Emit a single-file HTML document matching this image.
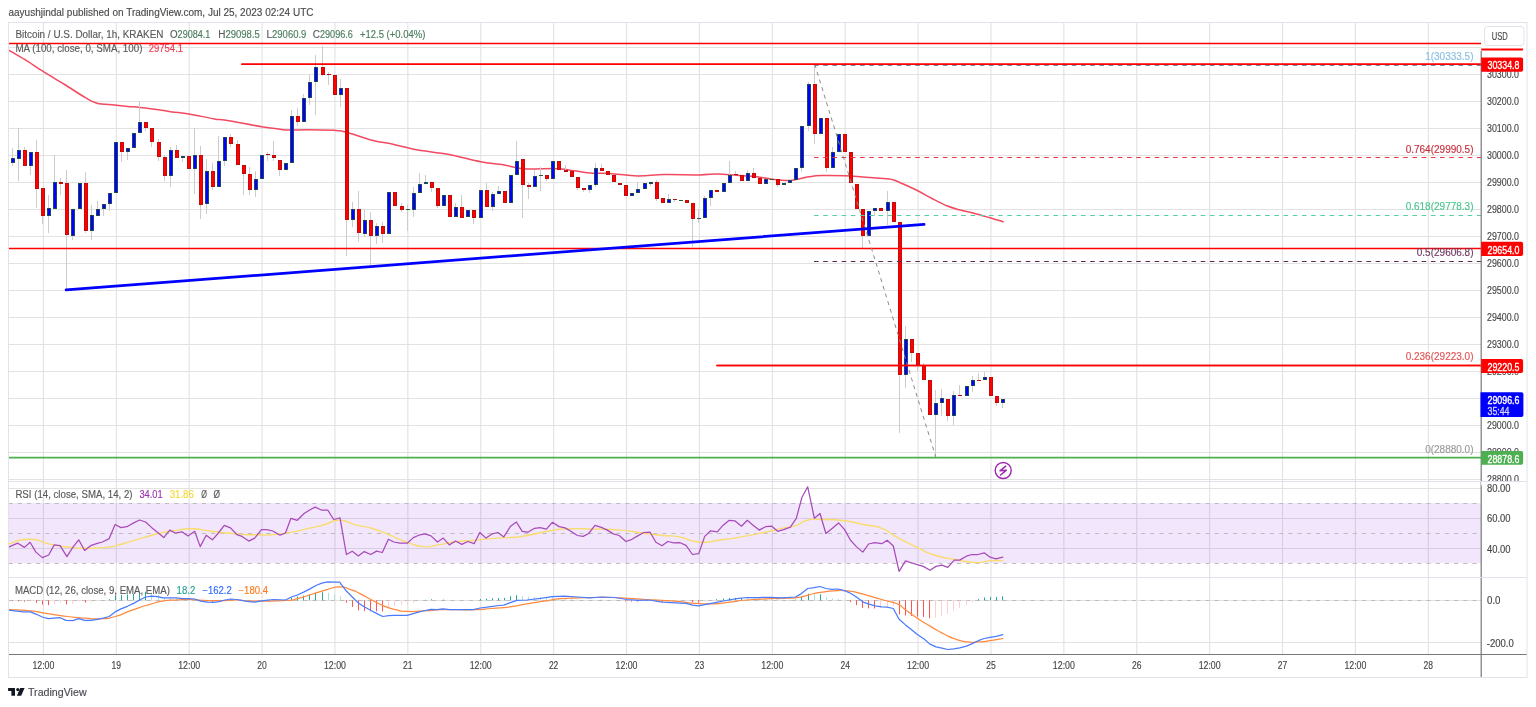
<!DOCTYPE html><html><head><meta charset="utf-8"><style>html,body{margin:0;padding:0;background:#fff;}svg{display:block;}</style></head><body><svg width="1536" height="707" viewBox="0 0 1536 707" font-family="'Liberation Sans', Arial, sans-serif">
<rect x="0" y="0" width="1536" height="707" fill="#ffffff"/>
<line x1="43.40" y1="22.5" x2="43.40" y2="654.5" stroke="#e2e2e2" stroke-width="1.1"/>
<line x1="116.29" y1="22.5" x2="116.29" y2="654.5" stroke="#e2e2e2" stroke-width="1.1"/>
<line x1="189.18" y1="22.5" x2="189.18" y2="654.5" stroke="#e2e2e2" stroke-width="1.1"/>
<line x1="262.07" y1="22.5" x2="262.07" y2="654.5" stroke="#e2e2e2" stroke-width="1.1"/>
<line x1="334.96" y1="22.5" x2="334.96" y2="654.5" stroke="#e2e2e2" stroke-width="1.1"/>
<line x1="407.85" y1="22.5" x2="407.85" y2="654.5" stroke="#e2e2e2" stroke-width="1.1"/>
<line x1="480.74" y1="22.5" x2="480.74" y2="654.5" stroke="#e2e2e2" stroke-width="1.1"/>
<line x1="553.63" y1="22.5" x2="553.63" y2="654.5" stroke="#e2e2e2" stroke-width="1.1"/>
<line x1="626.52" y1="22.5" x2="626.52" y2="654.5" stroke="#e2e2e2" stroke-width="1.1"/>
<line x1="699.41" y1="22.5" x2="699.41" y2="654.5" stroke="#e2e2e2" stroke-width="1.1"/>
<line x1="772.30" y1="22.5" x2="772.30" y2="654.5" stroke="#e2e2e2" stroke-width="1.1"/>
<line x1="845.19" y1="22.5" x2="845.19" y2="654.5" stroke="#e2e2e2" stroke-width="1.1"/>
<line x1="918.08" y1="22.5" x2="918.08" y2="654.5" stroke="#e2e2e2" stroke-width="1.1"/>
<line x1="990.97" y1="22.5" x2="990.97" y2="654.5" stroke="#e2e2e2" stroke-width="1.1"/>
<line x1="1063.86" y1="22.5" x2="1063.86" y2="654.5" stroke="#e2e2e2" stroke-width="1.1"/>
<line x1="1136.75" y1="22.5" x2="1136.75" y2="654.5" stroke="#e2e2e2" stroke-width="1.1"/>
<line x1="1209.64" y1="22.5" x2="1209.64" y2="654.5" stroke="#e2e2e2" stroke-width="1.1"/>
<line x1="1282.53" y1="22.5" x2="1282.53" y2="654.5" stroke="#e2e2e2" stroke-width="1.1"/>
<line x1="1355.42" y1="22.5" x2="1355.42" y2="654.5" stroke="#e2e2e2" stroke-width="1.1"/>
<line x1="1428.31" y1="22.5" x2="1428.31" y2="654.5" stroke="#e2e2e2" stroke-width="1.1"/>
<line x1="8" y1="479.5" x2="1481.2" y2="479.5" stroke="#e2e2e2" stroke-width="1"/>
<line x1="8" y1="452.5" x2="1481.2" y2="452.5" stroke="#e2e2e2" stroke-width="1"/>
<line x1="8" y1="425.5" x2="1481.2" y2="425.5" stroke="#e2e2e2" stroke-width="1"/>
<line x1="8" y1="398.5" x2="1481.2" y2="398.5" stroke="#e2e2e2" stroke-width="1"/>
<line x1="8" y1="371.5" x2="1481.2" y2="371.5" stroke="#e2e2e2" stroke-width="1"/>
<line x1="8" y1="344.5" x2="1481.2" y2="344.5" stroke="#e2e2e2" stroke-width="1"/>
<line x1="8" y1="317.5" x2="1481.2" y2="317.5" stroke="#e2e2e2" stroke-width="1"/>
<line x1="8" y1="290.5" x2="1481.2" y2="290.5" stroke="#e2e2e2" stroke-width="1"/>
<line x1="8" y1="263.5" x2="1481.2" y2="263.5" stroke="#e2e2e2" stroke-width="1"/>
<line x1="8" y1="236.5" x2="1481.2" y2="236.5" stroke="#e2e2e2" stroke-width="1"/>
<line x1="8" y1="209.5" x2="1481.2" y2="209.5" stroke="#e2e2e2" stroke-width="1"/>
<line x1="8" y1="182.5" x2="1481.2" y2="182.5" stroke="#e2e2e2" stroke-width="1"/>
<line x1="8" y1="155.5" x2="1481.2" y2="155.5" stroke="#e2e2e2" stroke-width="1"/>
<line x1="8" y1="128.5" x2="1481.2" y2="128.5" stroke="#e2e2e2" stroke-width="1"/>
<line x1="8" y1="101.5" x2="1481.2" y2="101.5" stroke="#e2e2e2" stroke-width="1"/>
<line x1="8" y1="74.5" x2="1481.2" y2="74.5" stroke="#e2e2e2" stroke-width="1"/>
<line x1="8" y1="47.5" x2="1481.2" y2="47.5" stroke="#e2e2e2" stroke-width="1"/>
<line x1="8" y1="488.5" x2="1481.2" y2="488.5" stroke="#e2e2e2" stroke-width="1"/>
<line x1="8" y1="518.5" x2="1481.2" y2="518.5" stroke="#e2e2e2" stroke-width="1"/>
<line x1="8" y1="548.5" x2="1481.2" y2="548.5" stroke="#e2e2e2" stroke-width="1"/>
<line x1="8" y1="600.5" x2="1481.2" y2="600.5" stroke="#e2e2e2" stroke-width="1"/>
<line x1="8" y1="642.5" x2="1481.2" y2="642.5" stroke="#e2e2e2" stroke-width="1"/>
<rect x="8" y="503.0" width="1473.2" height="60.0" fill="rgb(140,30,240)" fill-opacity="0.11"/>
<line x1="8.5" y1="503.5" x2="1481.2" y2="503.5" stroke="#bdbdbd" stroke-width="1" stroke-dasharray="4.2 5.007"/>
<line x1="8.5" y1="533.5" x2="1481.2" y2="533.5" stroke="#bdbdbd" stroke-width="1" stroke-dasharray="4.2 5.007"/>
<line x1="8.5" y1="563.5" x2="1481.2" y2="563.5" stroke="#bdbdbd" stroke-width="1" stroke-dasharray="4.2 5.007"/>
<line x1="8.5" y1="600.5" x2="1481.2" y2="600.5" stroke="#bdbdbd" stroke-width="1" stroke-dasharray="4.2 5.007"/>
<path d="M8.70,50.10 C11.42,51.70 19.22,56.10 25.00,59.70 C30.78,63.30 36.80,67.57 43.40,71.70 C50.00,75.83 57.53,80.13 64.60,84.50 C71.67,88.87 80.38,94.78 85.80,97.90 C91.22,101.02 92.38,102.02 97.10,103.20 C101.82,104.38 108.95,104.47 114.10,105.00 C119.25,105.53 123.68,105.98 128.00,106.40 C132.32,106.82 134.92,106.95 140.00,107.50 C145.08,108.05 153.17,108.97 158.50,109.70 C163.83,110.43 166.93,111.20 172.00,111.90 C177.07,112.60 181.85,112.73 188.90,113.90 C195.95,115.07 208.12,117.85 214.30,118.90 C220.48,119.95 218.13,118.90 226.00,120.20 C233.87,121.50 252.50,125.20 261.50,126.70 C270.50,128.20 275.42,128.63 280.00,129.20 C284.58,129.77 284.40,130.02 289.00,130.10 C293.60,130.18 300.10,129.67 307.60,129.70 C315.10,129.73 328.37,130.08 334.00,130.30 C339.63,130.52 338.33,130.38 341.40,131.00 C344.47,131.62 347.50,132.52 352.40,134.00 C357.30,135.48 363.87,138.15 370.80,139.90 C377.73,141.65 386.13,142.82 394.00,144.50 C401.87,146.18 409.00,148.37 418.00,150.00 C427.00,151.63 437.60,152.35 448.00,154.30 C458.40,156.25 471.40,159.98 480.40,161.70 C489.40,163.42 495.95,163.60 502.00,164.60 C508.05,165.60 512.42,166.97 516.70,167.70 C520.98,168.43 521.68,168.85 527.70,169.00 C533.72,169.15 547.08,168.60 552.80,168.60 C558.52,168.60 558.40,168.63 562.00,169.00 C565.60,169.37 569.27,170.10 574.40,170.80 C579.53,171.50 586.87,172.75 592.80,173.20 C598.73,173.65 602.53,173.05 610.00,173.50 C617.47,173.95 628.60,175.72 637.60,175.90 C646.60,176.08 653.68,174.77 664.00,174.60 C674.32,174.43 690.50,175.00 699.50,174.90 C708.50,174.80 711.85,173.93 718.00,174.00 C724.15,174.07 730.27,174.90 736.40,175.30 C742.53,175.70 748.87,175.75 754.80,176.40 C760.73,177.05 766.07,178.53 772.00,179.20 C777.93,179.87 784.27,180.80 790.40,180.40 C796.53,180.00 803.58,177.62 808.80,176.80 C814.02,175.98 815.62,175.67 821.70,175.50 C827.78,175.33 838.45,175.53 845.30,175.80 C852.15,176.07 857.02,176.68 862.80,177.10 C868.58,177.52 874.97,177.85 880.00,178.30 C885.03,178.75 889.23,178.88 893.00,179.80 C896.77,180.72 898.55,182.02 902.60,183.80 C906.65,185.58 912.40,188.05 917.30,190.50 C922.20,192.95 927.08,195.95 932.00,198.50 C936.92,201.05 942.27,203.92 946.80,205.80 C951.33,207.68 954.68,208.57 959.20,209.80 C963.72,211.03 968.80,211.88 973.90,213.20 C979.00,214.52 984.93,216.28 989.80,217.70 C994.67,219.12 1000.88,221.03 1003.10,221.70" fill="none" stroke="#f24a60" stroke-width="1.5" stroke-linejoin="round" stroke-linecap="round"/>
<line x1="12.5" y1="148" x2="12.5" y2="166" stroke="#cccccc" stroke-width="1"/>
<line x1="18.5" y1="128" x2="18.5" y2="181" stroke="#cccccc" stroke-width="1"/>
<line x1="24.5" y1="147" x2="24.5" y2="166" stroke="#cccccc" stroke-width="1"/>
<line x1="30.5" y1="152" x2="30.5" y2="175" stroke="#cccccc" stroke-width="1"/>
<line x1="36.5" y1="140" x2="36.5" y2="208" stroke="#cccccc" stroke-width="1"/>
<line x1="42.5" y1="188" x2="42.5" y2="224" stroke="#cccccc" stroke-width="1"/>
<line x1="48.5" y1="195" x2="48.5" y2="233" stroke="#cccccc" stroke-width="1"/>
<line x1="54.5" y1="155" x2="54.5" y2="209" stroke="#cccccc" stroke-width="1"/>
<line x1="60.5" y1="178" x2="60.5" y2="195" stroke="#cccccc" stroke-width="1"/>
<line x1="66.5" y1="170" x2="66.5" y2="289" stroke="#cccccc" stroke-width="1"/>
<line x1="72.5" y1="209" x2="72.5" y2="240" stroke="#cccccc" stroke-width="1"/>
<line x1="79.5" y1="183" x2="79.5" y2="209" stroke="#cccccc" stroke-width="1"/>
<line x1="85.5" y1="172" x2="85.5" y2="233" stroke="#cccccc" stroke-width="1"/>
<line x1="91.5" y1="205" x2="91.5" y2="240" stroke="#cccccc" stroke-width="1"/>
<line x1="97.5" y1="201" x2="97.5" y2="216" stroke="#cccccc" stroke-width="1"/>
<line x1="103.5" y1="204" x2="103.5" y2="216" stroke="#cccccc" stroke-width="1"/>
<line x1="109.5" y1="193" x2="109.5" y2="211" stroke="#cccccc" stroke-width="1"/>
<line x1="115.5" y1="142" x2="115.5" y2="193" stroke="#cccccc" stroke-width="1"/>
<line x1="121.5" y1="142" x2="121.5" y2="162" stroke="#cccccc" stroke-width="1"/>
<line x1="127.5" y1="148" x2="127.5" y2="160" stroke="#cccccc" stroke-width="1"/>
<line x1="133.5" y1="133" x2="133.5" y2="148" stroke="#cccccc" stroke-width="1"/>
<line x1="139.5" y1="101" x2="139.5" y2="133" stroke="#cccccc" stroke-width="1"/>
<line x1="145.5" y1="122" x2="145.5" y2="131" stroke="#cccccc" stroke-width="1"/>
<line x1="151.5" y1="128" x2="151.5" y2="147" stroke="#cccccc" stroke-width="1"/>
<line x1="158.5" y1="139" x2="158.5" y2="161" stroke="#cccccc" stroke-width="1"/>
<line x1="164.5" y1="155" x2="164.5" y2="181" stroke="#cccccc" stroke-width="1"/>
<line x1="170.5" y1="147" x2="170.5" y2="187" stroke="#cccccc" stroke-width="1"/>
<line x1="176.5" y1="145" x2="176.5" y2="158" stroke="#cccccc" stroke-width="1"/>
<line x1="182.5" y1="156" x2="182.5" y2="162" stroke="#cccccc" stroke-width="1"/>
<line x1="188.5" y1="156" x2="188.5" y2="169" stroke="#cccccc" stroke-width="1"/>
<line x1="194.5" y1="128" x2="194.5" y2="194" stroke="#cccccc" stroke-width="1"/>
<line x1="200.5" y1="146" x2="200.5" y2="219" stroke="#cccccc" stroke-width="1"/>
<line x1="206.5" y1="159" x2="206.5" y2="214" stroke="#cccccc" stroke-width="1"/>
<line x1="212.5" y1="163" x2="212.5" y2="190" stroke="#cccccc" stroke-width="1"/>
<line x1="218.5" y1="136" x2="218.5" y2="187" stroke="#cccccc" stroke-width="1"/>
<line x1="224.5" y1="137" x2="224.5" y2="166" stroke="#cccccc" stroke-width="1"/>
<line x1="230.5" y1="134" x2="230.5" y2="147" stroke="#cccccc" stroke-width="1"/>
<line x1="237.5" y1="140" x2="237.5" y2="165" stroke="#cccccc" stroke-width="1"/>
<line x1="243.5" y1="165" x2="243.5" y2="195" stroke="#cccccc" stroke-width="1"/>
<line x1="249.5" y1="167" x2="249.5" y2="195" stroke="#cccccc" stroke-width="1"/>
<line x1="255.5" y1="171" x2="255.5" y2="197" stroke="#cccccc" stroke-width="1"/>
<line x1="261.5" y1="155" x2="261.5" y2="179" stroke="#cccccc" stroke-width="1"/>
<line x1="267.5" y1="152" x2="267.5" y2="161" stroke="#cccccc" stroke-width="1"/>
<line x1="273.5" y1="141" x2="273.5" y2="161" stroke="#cccccc" stroke-width="1"/>
<line x1="279.5" y1="160" x2="279.5" y2="176" stroke="#cccccc" stroke-width="1"/>
<line x1="285.5" y1="163" x2="285.5" y2="170" stroke="#cccccc" stroke-width="1"/>
<line x1="291.5" y1="110" x2="291.5" y2="163" stroke="#cccccc" stroke-width="1"/>
<line x1="297.5" y1="108" x2="297.5" y2="126" stroke="#cccccc" stroke-width="1"/>
<line x1="303.5" y1="94" x2="303.5" y2="122" stroke="#cccccc" stroke-width="1"/>
<line x1="309.5" y1="75" x2="309.5" y2="105" stroke="#cccccc" stroke-width="1"/>
<line x1="315.5" y1="55" x2="315.5" y2="115" stroke="#cccccc" stroke-width="1"/>
<line x1="322.5" y1="46" x2="322.5" y2="76" stroke="#cccccc" stroke-width="1"/>
<line x1="328.5" y1="72" x2="328.5" y2="85" stroke="#cccccc" stroke-width="1"/>
<line x1="334.5" y1="75" x2="334.5" y2="95" stroke="#cccccc" stroke-width="1"/>
<line x1="340.5" y1="79" x2="340.5" y2="107" stroke="#cccccc" stroke-width="1"/>
<line x1="346.5" y1="88" x2="346.5" y2="256" stroke="#cccccc" stroke-width="1"/>
<line x1="352.5" y1="202" x2="352.5" y2="227" stroke="#cccccc" stroke-width="1"/>
<line x1="358.5" y1="191" x2="358.5" y2="242" stroke="#cccccc" stroke-width="1"/>
<line x1="364.5" y1="210" x2="364.5" y2="237" stroke="#cccccc" stroke-width="1"/>
<line x1="370.5" y1="212" x2="370.5" y2="265" stroke="#cccccc" stroke-width="1"/>
<line x1="376.5" y1="223" x2="376.5" y2="244" stroke="#cccccc" stroke-width="1"/>
<line x1="382.5" y1="222" x2="382.5" y2="243" stroke="#cccccc" stroke-width="1"/>
<line x1="388.5" y1="192" x2="388.5" y2="234" stroke="#cccccc" stroke-width="1"/>
<line x1="394.5" y1="192" x2="394.5" y2="206" stroke="#cccccc" stroke-width="1"/>
<line x1="401.5" y1="203" x2="401.5" y2="212" stroke="#cccccc" stroke-width="1"/>
<line x1="407.5" y1="205" x2="407.5" y2="231" stroke="#cccccc" stroke-width="1"/>
<line x1="413.5" y1="187" x2="413.5" y2="217" stroke="#cccccc" stroke-width="1"/>
<line x1="419.5" y1="173" x2="419.5" y2="193" stroke="#cccccc" stroke-width="1"/>
<line x1="425.5" y1="175" x2="425.5" y2="184" stroke="#cccccc" stroke-width="1"/>
<line x1="431.5" y1="182" x2="431.5" y2="192" stroke="#cccccc" stroke-width="1"/>
<line x1="437.5" y1="188" x2="437.5" y2="208" stroke="#cccccc" stroke-width="1"/>
<line x1="443.5" y1="195" x2="443.5" y2="206" stroke="#cccccc" stroke-width="1"/>
<line x1="449.5" y1="195" x2="449.5" y2="217" stroke="#cccccc" stroke-width="1"/>
<line x1="455.5" y1="203" x2="455.5" y2="217" stroke="#cccccc" stroke-width="1"/>
<line x1="461.5" y1="195" x2="461.5" y2="218" stroke="#cccccc" stroke-width="1"/>
<line x1="467.5" y1="210" x2="467.5" y2="217" stroke="#cccccc" stroke-width="1"/>
<line x1="473.5" y1="210" x2="473.5" y2="224" stroke="#cccccc" stroke-width="1"/>
<line x1="480.5" y1="190" x2="480.5" y2="218" stroke="#cccccc" stroke-width="1"/>
<line x1="486.5" y1="183" x2="486.5" y2="207" stroke="#cccccc" stroke-width="1"/>
<line x1="492.5" y1="192" x2="492.5" y2="211" stroke="#cccccc" stroke-width="1"/>
<line x1="498.5" y1="186" x2="498.5" y2="194" stroke="#cccccc" stroke-width="1"/>
<line x1="504.5" y1="191" x2="504.5" y2="203" stroke="#cccccc" stroke-width="1"/>
<line x1="510.5" y1="175" x2="510.5" y2="203" stroke="#cccccc" stroke-width="1"/>
<line x1="516.5" y1="141" x2="516.5" y2="175" stroke="#cccccc" stroke-width="1"/>
<line x1="522.5" y1="159" x2="522.5" y2="218" stroke="#cccccc" stroke-width="1"/>
<line x1="528.5" y1="183" x2="528.5" y2="199" stroke="#cccccc" stroke-width="1"/>
<line x1="534.5" y1="170" x2="534.5" y2="187" stroke="#cccccc" stroke-width="1"/>
<line x1="540.5" y1="167" x2="540.5" y2="191" stroke="#cccccc" stroke-width="1"/>
<line x1="546.5" y1="175" x2="546.5" y2="181" stroke="#cccccc" stroke-width="1"/>
<line x1="552.5" y1="161" x2="552.5" y2="179" stroke="#cccccc" stroke-width="1"/>
<line x1="558.5" y1="161" x2="558.5" y2="170" stroke="#cccccc" stroke-width="1"/>
<line x1="565.5" y1="165" x2="565.5" y2="172" stroke="#cccccc" stroke-width="1"/>
<line x1="571.5" y1="171" x2="571.5" y2="177" stroke="#cccccc" stroke-width="1"/>
<line x1="577.5" y1="177" x2="577.5" y2="190" stroke="#cccccc" stroke-width="1"/>
<line x1="583.5" y1="188" x2="583.5" y2="192" stroke="#cccccc" stroke-width="1"/>
<line x1="589.5" y1="185" x2="589.5" y2="193" stroke="#cccccc" stroke-width="1"/>
<line x1="595.5" y1="163" x2="595.5" y2="187" stroke="#cccccc" stroke-width="1"/>
<line x1="601.5" y1="164" x2="601.5" y2="171" stroke="#cccccc" stroke-width="1"/>
<line x1="607.5" y1="171" x2="607.5" y2="175" stroke="#cccccc" stroke-width="1"/>
<line x1="613.5" y1="175" x2="613.5" y2="182" stroke="#cccccc" stroke-width="1"/>
<line x1="619.5" y1="183" x2="619.5" y2="185" stroke="#cccccc" stroke-width="1"/>
<line x1="625.5" y1="185" x2="625.5" y2="196" stroke="#cccccc" stroke-width="1"/>
<line x1="631.5" y1="193" x2="631.5" y2="196" stroke="#cccccc" stroke-width="1"/>
<line x1="637.5" y1="182" x2="637.5" y2="193" stroke="#cccccc" stroke-width="1"/>
<line x1="644.5" y1="183" x2="644.5" y2="189" stroke="#cccccc" stroke-width="1"/>
<line x1="650.5" y1="182" x2="650.5" y2="186" stroke="#cccccc" stroke-width="1"/>
<line x1="656.5" y1="180" x2="656.5" y2="201" stroke="#cccccc" stroke-width="1"/>
<line x1="662.5" y1="198" x2="662.5" y2="203" stroke="#cccccc" stroke-width="1"/>
<line x1="668.5" y1="194" x2="668.5" y2="203" stroke="#cccccc" stroke-width="1"/>
<line x1="674.5" y1="199" x2="674.5" y2="202" stroke="#cccccc" stroke-width="1"/>
<line x1="680.5" y1="200" x2="680.5" y2="200" stroke="#cccccc" stroke-width="1"/>
<line x1="686.5" y1="200" x2="686.5" y2="203" stroke="#cccccc" stroke-width="1"/>
<line x1="692.5" y1="203" x2="692.5" y2="247" stroke="#cccccc" stroke-width="1"/>
<line x1="698.5" y1="209" x2="698.5" y2="223" stroke="#cccccc" stroke-width="1"/>
<line x1="704.5" y1="196" x2="704.5" y2="218" stroke="#cccccc" stroke-width="1"/>
<line x1="710.5" y1="190" x2="710.5" y2="206" stroke="#cccccc" stroke-width="1"/>
<line x1="716.5" y1="190" x2="716.5" y2="192" stroke="#cccccc" stroke-width="1"/>
<line x1="723.5" y1="183" x2="723.5" y2="192" stroke="#cccccc" stroke-width="1"/>
<line x1="729.5" y1="161" x2="729.5" y2="183" stroke="#cccccc" stroke-width="1"/>
<line x1="735.5" y1="171" x2="735.5" y2="175" stroke="#cccccc" stroke-width="1"/>
<line x1="741.5" y1="175" x2="741.5" y2="181" stroke="#cccccc" stroke-width="1"/>
<line x1="747.5" y1="170" x2="747.5" y2="181" stroke="#cccccc" stroke-width="1"/>
<line x1="753.5" y1="168" x2="753.5" y2="178" stroke="#cccccc" stroke-width="1"/>
<line x1="759.5" y1="178" x2="759.5" y2="184" stroke="#cccccc" stroke-width="1"/>
<line x1="765.5" y1="179" x2="765.5" y2="184" stroke="#cccccc" stroke-width="1"/>
<line x1="771.5" y1="179" x2="771.5" y2="180" stroke="#cccccc" stroke-width="1"/>
<line x1="777.5" y1="179" x2="777.5" y2="187" stroke="#cccccc" stroke-width="1"/>
<line x1="783.5" y1="183" x2="783.5" y2="185" stroke="#cccccc" stroke-width="1"/>
<line x1="789.5" y1="180" x2="789.5" y2="183" stroke="#cccccc" stroke-width="1"/>
<line x1="795.5" y1="168" x2="795.5" y2="180" stroke="#cccccc" stroke-width="1"/>
<line x1="801.5" y1="126" x2="801.5" y2="172" stroke="#cccccc" stroke-width="1"/>
<line x1="808.5" y1="82" x2="808.5" y2="131" stroke="#cccccc" stroke-width="1"/>
<line x1="814.5" y1="64" x2="814.5" y2="144" stroke="#cccccc" stroke-width="1"/>
<line x1="820.5" y1="118" x2="820.5" y2="134" stroke="#cccccc" stroke-width="1"/>
<line x1="826.5" y1="118" x2="826.5" y2="172" stroke="#cccccc" stroke-width="1"/>
<line x1="832.5" y1="147" x2="832.5" y2="168" stroke="#cccccc" stroke-width="1"/>
<line x1="838.5" y1="134" x2="838.5" y2="152" stroke="#cccccc" stroke-width="1"/>
<line x1="844.5" y1="134" x2="844.5" y2="152" stroke="#cccccc" stroke-width="1"/>
<line x1="850.5" y1="152" x2="850.5" y2="183" stroke="#cccccc" stroke-width="1"/>
<line x1="856.5" y1="184" x2="856.5" y2="209" stroke="#cccccc" stroke-width="1"/>
<line x1="862.5" y1="209" x2="862.5" y2="248" stroke="#cccccc" stroke-width="1"/>
<line x1="868.5" y1="211" x2="868.5" y2="236" stroke="#cccccc" stroke-width="1"/>
<line x1="874.5" y1="208" x2="874.5" y2="216" stroke="#cccccc" stroke-width="1"/>
<line x1="880.5" y1="208" x2="880.5" y2="211" stroke="#cccccc" stroke-width="1"/>
<line x1="887.5" y1="191" x2="887.5" y2="225" stroke="#cccccc" stroke-width="1"/>
<line x1="893.5" y1="202" x2="893.5" y2="222" stroke="#cccccc" stroke-width="1"/>
<line x1="899.5" y1="222" x2="899.5" y2="433" stroke="#cccccc" stroke-width="1"/>
<line x1="905.5" y1="326" x2="905.5" y2="388" stroke="#cccccc" stroke-width="1"/>
<line x1="911.5" y1="339" x2="911.5" y2="362" stroke="#cccccc" stroke-width="1"/>
<line x1="917.5" y1="353" x2="917.5" y2="371" stroke="#cccccc" stroke-width="1"/>
<line x1="923.5" y1="363" x2="923.5" y2="380" stroke="#cccccc" stroke-width="1"/>
<line x1="929.5" y1="380" x2="929.5" y2="415" stroke="#cccccc" stroke-width="1"/>
<line x1="935.5" y1="390" x2="935.5" y2="456" stroke="#cccccc" stroke-width="1"/>
<line x1="941.5" y1="389" x2="941.5" y2="416" stroke="#cccccc" stroke-width="1"/>
<line x1="947.5" y1="399" x2="947.5" y2="421" stroke="#cccccc" stroke-width="1"/>
<line x1="953.5" y1="391" x2="953.5" y2="425" stroke="#cccccc" stroke-width="1"/>
<line x1="959.5" y1="385" x2="959.5" y2="396" stroke="#cccccc" stroke-width="1"/>
<line x1="966.5" y1="386" x2="966.5" y2="396" stroke="#cccccc" stroke-width="1"/>
<line x1="972.5" y1="376" x2="972.5" y2="392" stroke="#cccccc" stroke-width="1"/>
<line x1="978.5" y1="373" x2="978.5" y2="380" stroke="#cccccc" stroke-width="1"/>
<line x1="984.5" y1="372" x2="984.5" y2="380" stroke="#cccccc" stroke-width="1"/>
<line x1="990.5" y1="377" x2="990.5" y2="396" stroke="#cccccc" stroke-width="1"/>
<line x1="996.5" y1="396" x2="996.5" y2="406" stroke="#cccccc" stroke-width="1"/>
<line x1="1002.5" y1="399" x2="1002.5" y2="408" stroke="#cccccc" stroke-width="1"/>
<rect x="11" y="158" width="4" height="5" fill="#2a5a36"/>
<rect x="11.75" y="158.75" width="2.5" height="3.50" fill="#0000ff"/>
<rect x="17" y="150" width="4" height="9" fill="#2a5a36"/>
<rect x="17.75" y="150.75" width="2.5" height="7.50" fill="#0000ff"/>
<rect x="23" y="150" width="4" height="16" fill="#b01010"/>
<rect x="23.75" y="150.75" width="2.5" height="14.50" fill="#ff0000"/>
<rect x="29" y="152" width="4" height="14" fill="#2a5a36"/>
<rect x="29.75" y="152.75" width="2.5" height="12.50" fill="#0000ff"/>
<rect x="35" y="152" width="4" height="37" fill="#b01010"/>
<rect x="35.75" y="152.75" width="2.5" height="35.50" fill="#ff0000"/>
<rect x="41" y="188" width="4" height="28" fill="#b01010"/>
<rect x="41.75" y="188.75" width="2.5" height="26.50" fill="#ff0000"/>
<rect x="47" y="208" width="4" height="8" fill="#2a5a36"/>
<rect x="47.75" y="208.75" width="2.5" height="6.50" fill="#0000ff"/>
<rect x="53" y="182" width="4" height="27" fill="#2a5a36"/>
<rect x="53.75" y="182.75" width="2.5" height="25.50" fill="#0000ff"/>
<rect x="59" y="182" width="4" height="2" fill="#b01010"/>
<rect x="59.75" y="182.75" width="2.5" height="0.50" fill="#ff0000"/>
<rect x="65" y="183" width="4" height="52" fill="#b01010"/>
<rect x="65.75" y="183.75" width="2.5" height="50.50" fill="#ff0000"/>
<rect x="71" y="209" width="4" height="27" fill="#2a5a36"/>
<rect x="71.75" y="209.75" width="2.5" height="25.50" fill="#0000ff"/>
<rect x="78" y="183" width="4" height="26" fill="#2a5a36"/>
<rect x="78.75" y="183.75" width="2.5" height="24.50" fill="#0000ff"/>
<rect x="84" y="183" width="4" height="48" fill="#b01010"/>
<rect x="84.75" y="183.75" width="2.5" height="46.50" fill="#ff0000"/>
<rect x="90" y="215" width="4" height="16" fill="#2a5a36"/>
<rect x="90.75" y="215.75" width="2.5" height="14.50" fill="#0000ff"/>
<rect x="96" y="209" width="4" height="7" fill="#2a5a36"/>
<rect x="96.75" y="209.75" width="2.5" height="5.50" fill="#0000ff"/>
<rect x="102" y="204" width="4" height="5" fill="#2a5a36"/>
<rect x="102.75" y="204.75" width="2.5" height="3.50" fill="#0000ff"/>
<rect x="108" y="193" width="4" height="11" fill="#2a5a36"/>
<rect x="108.75" y="193.75" width="2.5" height="9.50" fill="#0000ff"/>
<rect x="114" y="142" width="4" height="51" fill="#2a5a36"/>
<rect x="114.75" y="142.75" width="2.5" height="49.50" fill="#0000ff"/>
<rect x="120" y="142" width="4" height="10" fill="#b01010"/>
<rect x="120.75" y="142.75" width="2.5" height="8.50" fill="#ff0000"/>
<rect x="126" y="148" width="4" height="4" fill="#2a5a36"/>
<rect x="126.75" y="148.75" width="2.5" height="2.50" fill="#0000ff"/>
<rect x="132" y="133" width="4" height="15" fill="#2a5a36"/>
<rect x="132.75" y="133.75" width="2.5" height="13.50" fill="#0000ff"/>
<rect x="138" y="122" width="4" height="11" fill="#2a5a36"/>
<rect x="138.75" y="122.75" width="2.5" height="9.50" fill="#0000ff"/>
<rect x="144" y="122" width="4" height="6" fill="#b01010"/>
<rect x="144.75" y="122.75" width="2.5" height="4.50" fill="#ff0000"/>
<rect x="150" y="128" width="4" height="14" fill="#b01010"/>
<rect x="150.75" y="128.75" width="2.5" height="12.50" fill="#ff0000"/>
<rect x="157" y="142" width="4" height="15" fill="#b01010"/>
<rect x="157.75" y="142.75" width="2.5" height="13.50" fill="#ff0000"/>
<rect x="163" y="157" width="4" height="19" fill="#b01010"/>
<rect x="163.75" y="157.75" width="2.5" height="17.50" fill="#ff0000"/>
<rect x="169" y="150" width="4" height="26" fill="#2a5a36"/>
<rect x="169.75" y="150.75" width="2.5" height="24.50" fill="#0000ff"/>
<rect x="175" y="150" width="4" height="8" fill="#b01010"/>
<rect x="175.75" y="150.75" width="2.5" height="6.50" fill="#ff0000"/>
<rect x="181" y="156" width="4" height="2" fill="#2a5a36"/>
<rect x="181.75" y="156.75" width="2.5" height="0.50" fill="#0000ff"/>
<rect x="187" y="156" width="4" height="13" fill="#b01010"/>
<rect x="187.75" y="156.75" width="2.5" height="11.50" fill="#ff0000"/>
<rect x="193" y="155" width="4" height="14" fill="#2a5a36"/>
<rect x="193.75" y="155.75" width="2.5" height="12.50" fill="#0000ff"/>
<rect x="199" y="155" width="4" height="50" fill="#b01010"/>
<rect x="199.75" y="155.75" width="2.5" height="48.50" fill="#ff0000"/>
<rect x="205" y="171" width="4" height="33" fill="#2a5a36"/>
<rect x="205.75" y="171.75" width="2.5" height="31.50" fill="#0000ff"/>
<rect x="211" y="171" width="4" height="16" fill="#b01010"/>
<rect x="211.75" y="171.75" width="2.5" height="14.50" fill="#ff0000"/>
<rect x="217" y="161" width="4" height="26" fill="#2a5a36"/>
<rect x="217.75" y="161.75" width="2.5" height="24.50" fill="#0000ff"/>
<rect x="223" y="137" width="4" height="24" fill="#2a5a36"/>
<rect x="223.75" y="137.75" width="2.5" height="22.50" fill="#0000ff"/>
<rect x="229" y="137" width="4" height="7" fill="#b01010"/>
<rect x="229.75" y="137.75" width="2.5" height="5.50" fill="#ff0000"/>
<rect x="236" y="144" width="4" height="21" fill="#b01010"/>
<rect x="236.75" y="144.75" width="2.5" height="19.50" fill="#ff0000"/>
<rect x="242" y="165" width="4" height="9" fill="#b01010"/>
<rect x="242.75" y="165.75" width="2.5" height="7.50" fill="#ff0000"/>
<rect x="248" y="174" width="4" height="16" fill="#b01010"/>
<rect x="248.75" y="174.75" width="2.5" height="14.50" fill="#ff0000"/>
<rect x="254" y="179" width="4" height="11" fill="#2a5a36"/>
<rect x="254.75" y="179.75" width="2.5" height="9.50" fill="#0000ff"/>
<rect x="260" y="155" width="4" height="24" fill="#2a5a36"/>
<rect x="260.75" y="155.75" width="2.5" height="22.50" fill="#0000ff"/>
<rect x="266" y="154" width="4" height="1" fill="#b01010"/>
<rect x="272" y="155" width="4" height="3" fill="#b01010"/>
<rect x="272.75" y="155.75" width="2.5" height="1.50" fill="#ff0000"/>
<rect x="278" y="160" width="4" height="10" fill="#b01010"/>
<rect x="278.75" y="160.75" width="2.5" height="8.50" fill="#ff0000"/>
<rect x="284" y="163" width="4" height="7" fill="#2a5a36"/>
<rect x="284.75" y="163.75" width="2.5" height="5.50" fill="#0000ff"/>
<rect x="290" y="116" width="4" height="47" fill="#2a5a36"/>
<rect x="290.75" y="116.75" width="2.5" height="45.50" fill="#0000ff"/>
<rect x="296" y="116" width="4" height="6" fill="#b01010"/>
<rect x="296.75" y="116.75" width="2.5" height="4.50" fill="#ff0000"/>
<rect x="302" y="98" width="4" height="24" fill="#2a5a36"/>
<rect x="302.75" y="98.75" width="2.5" height="22.50" fill="#0000ff"/>
<rect x="308" y="82" width="4" height="16" fill="#2a5a36"/>
<rect x="308.75" y="82.75" width="2.5" height="14.50" fill="#0000ff"/>
<rect x="314" y="67" width="4" height="15" fill="#2a5a36"/>
<rect x="314.75" y="67.75" width="2.5" height="13.50" fill="#0000ff"/>
<rect x="321" y="67" width="4" height="8" fill="#b01010"/>
<rect x="321.75" y="67.75" width="2.5" height="6.50" fill="#ff0000"/>
<rect x="327" y="74" width="4" height="1" fill="#b01010"/>
<rect x="333" y="75" width="4" height="20" fill="#b01010"/>
<rect x="333.75" y="75.75" width="2.5" height="18.50" fill="#ff0000"/>
<rect x="339" y="88" width="4" height="7" fill="#2a5a36"/>
<rect x="339.75" y="88.75" width="2.5" height="5.50" fill="#0000ff"/>
<rect x="345" y="88" width="4" height="132" fill="#b01010"/>
<rect x="345.75" y="88.75" width="2.5" height="130.50" fill="#ff0000"/>
<rect x="351" y="209" width="4" height="11" fill="#2a5a36"/>
<rect x="351.75" y="209.75" width="2.5" height="9.50" fill="#0000ff"/>
<rect x="357" y="209" width="4" height="24" fill="#b01010"/>
<rect x="357.75" y="209.75" width="2.5" height="22.50" fill="#ff0000"/>
<rect x="363" y="220" width="4" height="14" fill="#2a5a36"/>
<rect x="363.75" y="220.75" width="2.5" height="12.50" fill="#0000ff"/>
<rect x="369" y="220" width="4" height="16" fill="#b01010"/>
<rect x="369.75" y="220.75" width="2.5" height="14.50" fill="#ff0000"/>
<rect x="375" y="226" width="4" height="10" fill="#2a5a36"/>
<rect x="375.75" y="226.75" width="2.5" height="8.50" fill="#0000ff"/>
<rect x="381" y="226" width="4" height="8" fill="#b01010"/>
<rect x="381.75" y="226.75" width="2.5" height="6.50" fill="#ff0000"/>
<rect x="387" y="192" width="4" height="42" fill="#2a5a36"/>
<rect x="387.75" y="192.75" width="2.5" height="40.50" fill="#0000ff"/>
<rect x="393" y="192" width="4" height="14" fill="#b01010"/>
<rect x="393.75" y="192.75" width="2.5" height="12.50" fill="#ff0000"/>
<rect x="400" y="206" width="4" height="4" fill="#b01010"/>
<rect x="400.75" y="206.75" width="2.5" height="2.50" fill="#ff0000"/>
<rect x="406" y="209" width="4" height="1" fill="#2a5a36"/>
<rect x="412" y="193" width="4" height="17" fill="#2a5a36"/>
<rect x="412.75" y="193.75" width="2.5" height="15.50" fill="#0000ff"/>
<rect x="418" y="184" width="4" height="9" fill="#2a5a36"/>
<rect x="418.75" y="184.75" width="2.5" height="7.50" fill="#0000ff"/>
<rect x="424" y="182" width="4" height="2" fill="#2a5a36"/>
<rect x="424.75" y="182.75" width="2.5" height="0.50" fill="#0000ff"/>
<rect x="430" y="182" width="4" height="6" fill="#b01010"/>
<rect x="430.75" y="182.75" width="2.5" height="4.50" fill="#ff0000"/>
<rect x="436" y="188" width="4" height="18" fill="#b01010"/>
<rect x="436.75" y="188.75" width="2.5" height="16.50" fill="#ff0000"/>
<rect x="442" y="195" width="4" height="11" fill="#2a5a36"/>
<rect x="442.75" y="195.75" width="2.5" height="9.50" fill="#0000ff"/>
<rect x="448" y="195" width="4" height="22" fill="#b01010"/>
<rect x="448.75" y="195.75" width="2.5" height="20.50" fill="#ff0000"/>
<rect x="454" y="207" width="4" height="10" fill="#2a5a36"/>
<rect x="454.75" y="207.75" width="2.5" height="8.50" fill="#0000ff"/>
<rect x="460" y="207" width="4" height="11" fill="#b01010"/>
<rect x="460.75" y="207.75" width="2.5" height="9.50" fill="#ff0000"/>
<rect x="466" y="210" width="4" height="7" fill="#2a5a36"/>
<rect x="466.75" y="210.75" width="2.5" height="5.50" fill="#0000ff"/>
<rect x="472" y="210" width="4" height="8" fill="#b01010"/>
<rect x="472.75" y="210.75" width="2.5" height="6.50" fill="#ff0000"/>
<rect x="479" y="190" width="4" height="28" fill="#2a5a36"/>
<rect x="479.75" y="190.75" width="2.5" height="26.50" fill="#0000ff"/>
<rect x="485" y="190" width="4" height="17" fill="#b01010"/>
<rect x="485.75" y="190.75" width="2.5" height="15.50" fill="#ff0000"/>
<rect x="491" y="194" width="4" height="13" fill="#2a5a36"/>
<rect x="491.75" y="194.75" width="2.5" height="11.50" fill="#0000ff"/>
<rect x="497" y="191" width="4" height="3" fill="#2a5a36"/>
<rect x="497.75" y="191.75" width="2.5" height="1.50" fill="#0000ff"/>
<rect x="503" y="191" width="4" height="12" fill="#b01010"/>
<rect x="503.75" y="191.75" width="2.5" height="10.50" fill="#ff0000"/>
<rect x="509" y="175" width="4" height="28" fill="#2a5a36"/>
<rect x="509.75" y="175.75" width="2.5" height="26.50" fill="#0000ff"/>
<rect x="515" y="161" width="4" height="14" fill="#2a5a36"/>
<rect x="515.75" y="161.75" width="2.5" height="12.50" fill="#0000ff"/>
<rect x="521" y="159" width="4" height="26" fill="#b01010"/>
<rect x="521.75" y="159.75" width="2.5" height="24.50" fill="#ff0000"/>
<rect x="527" y="185" width="4" height="2" fill="#b01010"/>
<rect x="527.75" y="185.75" width="2.5" height="0.50" fill="#ff0000"/>
<rect x="533" y="176" width="4" height="11" fill="#2a5a36"/>
<rect x="533.75" y="176.75" width="2.5" height="9.50" fill="#0000ff"/>
<rect x="539" y="175" width="4" height="1" fill="#2a5a36"/>
<rect x="545" y="175" width="4" height="4" fill="#b01010"/>
<rect x="545.75" y="175.75" width="2.5" height="2.50" fill="#ff0000"/>
<rect x="551" y="161" width="4" height="18" fill="#2a5a36"/>
<rect x="551.75" y="161.75" width="2.5" height="16.50" fill="#0000ff"/>
<rect x="557" y="161" width="4" height="9" fill="#b01010"/>
<rect x="557.75" y="161.75" width="2.5" height="7.50" fill="#ff0000"/>
<rect x="564" y="170" width="4" height="2" fill="#b01010"/>
<rect x="564.75" y="170.75" width="2.5" height="0.50" fill="#ff0000"/>
<rect x="570" y="171" width="4" height="6" fill="#b01010"/>
<rect x="570.75" y="171.75" width="2.5" height="4.50" fill="#ff0000"/>
<rect x="576" y="177" width="4" height="11" fill="#b01010"/>
<rect x="576.75" y="177.75" width="2.5" height="9.50" fill="#ff0000"/>
<rect x="582" y="188" width="4" height="2" fill="#b01010"/>
<rect x="582.75" y="188.75" width="2.5" height="0.50" fill="#ff0000"/>
<rect x="588" y="185" width="4" height="5" fill="#2a5a36"/>
<rect x="588.75" y="185.75" width="2.5" height="3.50" fill="#0000ff"/>
<rect x="594" y="168" width="4" height="17" fill="#2a5a36"/>
<rect x="594.75" y="168.75" width="2.5" height="15.50" fill="#0000ff"/>
<rect x="600" y="168" width="4" height="3" fill="#b01010"/>
<rect x="600.75" y="168.75" width="2.5" height="1.50" fill="#ff0000"/>
<rect x="606" y="171" width="4" height="4" fill="#b01010"/>
<rect x="606.75" y="171.75" width="2.5" height="2.50" fill="#ff0000"/>
<rect x="612" y="175" width="4" height="7" fill="#b01010"/>
<rect x="612.75" y="175.75" width="2.5" height="5.50" fill="#ff0000"/>
<rect x="618" y="183" width="4" height="2" fill="#b01010"/>
<rect x="618.75" y="183.75" width="2.5" height="0.50" fill="#ff0000"/>
<rect x="624" y="185" width="4" height="11" fill="#b01010"/>
<rect x="624.75" y="185.75" width="2.5" height="9.50" fill="#ff0000"/>
<rect x="630" y="193" width="4" height="3" fill="#2a5a36"/>
<rect x="630.75" y="193.75" width="2.5" height="1.50" fill="#0000ff"/>
<rect x="636" y="189" width="4" height="4" fill="#2a5a36"/>
<rect x="636.75" y="189.75" width="2.5" height="2.50" fill="#0000ff"/>
<rect x="643" y="183" width="4" height="6" fill="#2a5a36"/>
<rect x="643.75" y="183.75" width="2.5" height="4.50" fill="#0000ff"/>
<rect x="649" y="182" width="4" height="2" fill="#2a5a36"/>
<rect x="649.75" y="182.75" width="2.5" height="0.50" fill="#0000ff"/>
<rect x="655" y="182" width="4" height="17" fill="#b01010"/>
<rect x="655.75" y="182.75" width="2.5" height="15.50" fill="#ff0000"/>
<rect x="661" y="198" width="4" height="5" fill="#b01010"/>
<rect x="661.75" y="198.75" width="2.5" height="3.50" fill="#ff0000"/>
<rect x="667" y="199" width="4" height="4" fill="#2a5a36"/>
<rect x="667.75" y="199.75" width="2.5" height="2.50" fill="#0000ff"/>
<rect x="673" y="199" width="4" height="1" fill="#b01010"/>
<rect x="679" y="200" width="4" height="1" fill="#2a5a36"/>
<rect x="685" y="200" width="4" height="3" fill="#b01010"/>
<rect x="685.75" y="200.75" width="2.5" height="1.50" fill="#ff0000"/>
<rect x="691" y="203" width="4" height="16" fill="#b01010"/>
<rect x="691.75" y="203.75" width="2.5" height="14.50" fill="#ff0000"/>
<rect x="697" y="218" width="4" height="1" fill="#2a5a36"/>
<rect x="703" y="198" width="4" height="20" fill="#2a5a36"/>
<rect x="703.75" y="198.75" width="2.5" height="18.50" fill="#0000ff"/>
<rect x="709" y="190" width="4" height="8" fill="#2a5a36"/>
<rect x="709.75" y="190.75" width="2.5" height="6.50" fill="#0000ff"/>
<rect x="715" y="190" width="4" height="2" fill="#b01010"/>
<rect x="715.75" y="190.75" width="2.5" height="0.50" fill="#ff0000"/>
<rect x="722" y="183" width="4" height="9" fill="#2a5a36"/>
<rect x="722.75" y="183.75" width="2.5" height="7.50" fill="#0000ff"/>
<rect x="728" y="175" width="4" height="8" fill="#2a5a36"/>
<rect x="728.75" y="175.75" width="2.5" height="6.50" fill="#0000ff"/>
<rect x="734" y="174" width="4" height="1" fill="#b01010"/>
<rect x="740" y="175" width="4" height="6" fill="#b01010"/>
<rect x="740.75" y="175.75" width="2.5" height="4.50" fill="#ff0000"/>
<rect x="746" y="173" width="4" height="8" fill="#2a5a36"/>
<rect x="746.75" y="173.75" width="2.5" height="6.50" fill="#0000ff"/>
<rect x="752" y="173" width="4" height="5" fill="#b01010"/>
<rect x="752.75" y="173.75" width="2.5" height="3.50" fill="#ff0000"/>
<rect x="758" y="178" width="4" height="6" fill="#b01010"/>
<rect x="758.75" y="178.75" width="2.5" height="4.50" fill="#ff0000"/>
<rect x="764" y="179" width="4" height="5" fill="#2a5a36"/>
<rect x="764.75" y="179.75" width="2.5" height="3.50" fill="#0000ff"/>
<rect x="770" y="179" width="4" height="1" fill="#2a5a36"/>
<rect x="776" y="179" width="4" height="6" fill="#b01010"/>
<rect x="776.75" y="179.75" width="2.5" height="4.50" fill="#ff0000"/>
<rect x="782" y="183" width="4" height="2" fill="#2a5a36"/>
<rect x="782.75" y="183.75" width="2.5" height="0.50" fill="#0000ff"/>
<rect x="788" y="180" width="4" height="3" fill="#2a5a36"/>
<rect x="788.75" y="180.75" width="2.5" height="1.50" fill="#0000ff"/>
<rect x="794" y="168" width="4" height="12" fill="#2a5a36"/>
<rect x="794.75" y="168.75" width="2.5" height="10.50" fill="#0000ff"/>
<rect x="800" y="126" width="4" height="42" fill="#2a5a36"/>
<rect x="800.75" y="126.75" width="2.5" height="40.50" fill="#0000ff"/>
<rect x="807" y="84" width="4" height="42" fill="#2a5a36"/>
<rect x="807.75" y="84.75" width="2.5" height="40.50" fill="#0000ff"/>
<rect x="813" y="84" width="4" height="50" fill="#b01010"/>
<rect x="813.75" y="84.75" width="2.5" height="48.50" fill="#ff0000"/>
<rect x="819" y="118" width="4" height="16" fill="#2a5a36"/>
<rect x="819.75" y="118.75" width="2.5" height="14.50" fill="#0000ff"/>
<rect x="825" y="118" width="4" height="50" fill="#b01010"/>
<rect x="825.75" y="118.75" width="2.5" height="48.50" fill="#ff0000"/>
<rect x="831" y="152" width="4" height="16" fill="#2a5a36"/>
<rect x="831.75" y="152.75" width="2.5" height="14.50" fill="#0000ff"/>
<rect x="837" y="134" width="4" height="18" fill="#2a5a36"/>
<rect x="837.75" y="134.75" width="2.5" height="16.50" fill="#0000ff"/>
<rect x="843" y="134" width="4" height="18" fill="#b01010"/>
<rect x="843.75" y="134.75" width="2.5" height="16.50" fill="#ff0000"/>
<rect x="849" y="152" width="4" height="31" fill="#b01010"/>
<rect x="849.75" y="152.75" width="2.5" height="29.50" fill="#ff0000"/>
<rect x="855" y="184" width="4" height="25" fill="#b01010"/>
<rect x="855.75" y="184.75" width="2.5" height="23.50" fill="#ff0000"/>
<rect x="861" y="209" width="4" height="27" fill="#b01010"/>
<rect x="861.75" y="209.75" width="2.5" height="25.50" fill="#ff0000"/>
<rect x="867" y="211" width="4" height="25" fill="#2a5a36"/>
<rect x="867.75" y="211.75" width="2.5" height="23.50" fill="#0000ff"/>
<rect x="873" y="208" width="4" height="3" fill="#2a5a36"/>
<rect x="873.75" y="208.75" width="2.5" height="1.50" fill="#0000ff"/>
<rect x="879" y="208" width="4" height="3" fill="#b01010"/>
<rect x="879.75" y="208.75" width="2.5" height="1.50" fill="#ff0000"/>
<rect x="886" y="202" width="4" height="9" fill="#2a5a36"/>
<rect x="886.75" y="202.75" width="2.5" height="7.50" fill="#0000ff"/>
<rect x="892" y="202" width="4" height="20" fill="#b01010"/>
<rect x="892.75" y="202.75" width="2.5" height="18.50" fill="#ff0000"/>
<rect x="898" y="222" width="4" height="153" fill="#b01010"/>
<rect x="898.75" y="222.75" width="2.5" height="151.50" fill="#ff0000"/>
<rect x="904" y="339" width="4" height="36" fill="#2a5a36"/>
<rect x="904.75" y="339.75" width="2.5" height="34.50" fill="#0000ff"/>
<rect x="910" y="339" width="4" height="14" fill="#b01010"/>
<rect x="910.75" y="339.75" width="2.5" height="12.50" fill="#ff0000"/>
<rect x="916" y="353" width="4" height="12" fill="#b01010"/>
<rect x="916.75" y="353.75" width="2.5" height="10.50" fill="#ff0000"/>
<rect x="922" y="365" width="4" height="15" fill="#b01010"/>
<rect x="922.75" y="365.75" width="2.5" height="13.50" fill="#ff0000"/>
<rect x="928" y="380" width="4" height="35" fill="#b01010"/>
<rect x="928.75" y="380.75" width="2.5" height="33.50" fill="#ff0000"/>
<rect x="934" y="403" width="4" height="12" fill="#2a5a36"/>
<rect x="934.75" y="403.75" width="2.5" height="10.50" fill="#0000ff"/>
<rect x="940" y="398" width="4" height="5" fill="#2a5a36"/>
<rect x="940.75" y="398.75" width="2.5" height="3.50" fill="#0000ff"/>
<rect x="946" y="399" width="4" height="17" fill="#b01010"/>
<rect x="946.75" y="399.75" width="2.5" height="15.50" fill="#ff0000"/>
<rect x="952" y="395" width="4" height="21" fill="#2a5a36"/>
<rect x="952.75" y="395.75" width="2.5" height="19.50" fill="#0000ff"/>
<rect x="958" y="395" width="4" height="1" fill="#b01010"/>
<rect x="965" y="386" width="4" height="10" fill="#2a5a36"/>
<rect x="965.75" y="386.75" width="2.5" height="8.50" fill="#0000ff"/>
<rect x="971" y="380" width="4" height="6" fill="#2a5a36"/>
<rect x="971.75" y="380.75" width="2.5" height="4.50" fill="#0000ff"/>
<rect x="977" y="380" width="4" height="1" fill="#b01010"/>
<rect x="983" y="377" width="4" height="3" fill="#2a5a36"/>
<rect x="983.75" y="377.75" width="2.5" height="1.50" fill="#0000ff"/>
<rect x="989" y="377" width="4" height="19" fill="#b01010"/>
<rect x="989.75" y="377.75" width="2.5" height="17.50" fill="#ff0000"/>
<rect x="995" y="396" width="4" height="7" fill="#b01010"/>
<rect x="995.75" y="396.75" width="2.5" height="5.50" fill="#ff0000"/>
<rect x="1001" y="399" width="4" height="4" fill="#2a5a36"/>
<rect x="1001.75" y="399.75" width="2.5" height="2.50" fill="#0000ff"/>
<line x1="8" y1="43.5" x2="1481.2" y2="43.5" stroke="#ff0000" stroke-width="1.6"/>
<line x1="242" y1="64.3" x2="1481.2" y2="64.3" stroke="#ff0000" stroke-width="1.6" stroke-linecap="round"/>
<line x1="8" y1="248.5" x2="1481.2" y2="248.5" stroke="#ff0000" stroke-width="1.6"/>
<line x1="717" y1="365.5" x2="1481.2" y2="365.5" stroke="#ff0000" stroke-width="1.6" stroke-linecap="round"/>
<line x1="814" y1="65.5" x2="1481.2" y2="65.5" stroke="#6f8fb0" stroke-width="1" stroke-dasharray="4.6 4.607"/>
<line x1="814" y1="157.5" x2="1481.2" y2="157.5" stroke="#f23645" stroke-width="1" stroke-dasharray="4.6 4.607"/>
<line x1="814" y1="215.5" x2="1481.2" y2="215.5" stroke="#56d0a0" stroke-width="1" stroke-dasharray="4.6 4.607"/>
<line x1="814" y1="261.5" x2="1481.2" y2="261.5" stroke="#5e2b50" stroke-width="1" stroke-dasharray="4.6 4.607"/>
<line x1="814" y1="365.5" x2="1481.2" y2="365.5" stroke="#f05050" stroke-width="1" stroke-dasharray="4.6 4.607"/>
<line x1="814" y1="457.5" x2="1481.2" y2="457.5" stroke="#999999" stroke-width="1" stroke-dasharray="4.6 4.607"/>
<line x1="814.7" y1="64.2" x2="935.9" y2="457.5" stroke="#8a8a8a" stroke-width="1" stroke-dasharray="4 4"/>
<line x1="242" y1="64.3" x2="1481.2" y2="64.3" stroke="#ff0000" stroke-width="1.6" stroke-linecap="round"/>
<line x1="717" y1="365.5" x2="1481.2" y2="365.5" stroke="#ff0000" stroke-width="1.6" stroke-linecap="round"/>
<line x1="8" y1="457.6" x2="1481.2" y2="457.6" stroke="#4caf50" stroke-width="1.6"/>
<line x1="66.1" y1="289.9" x2="924.1" y2="224.3" stroke="#0000ff" stroke-width="2.7" stroke-linecap="round"/>
<text x="1473.50" y="60.40" font-size="10" fill="#8cc0e0" text-anchor="end" font-weight="normal" stroke="#8cc0e0" stroke-width="0.15">1(30333.5)</text>
<text x="1473.50" y="152.50" font-size="10" fill="#c8313f" text-anchor="end" font-weight="normal" stroke="#c8313f" stroke-width="0.15">0.764(29990.5)</text>
<text x="1473.50" y="210.00" font-size="10" fill="#4cc48f" text-anchor="end" font-weight="normal" stroke="#4cc48f" stroke-width="0.15">0.618(29778.3)</text>
<text x="1473.50" y="256.30" font-size="10" fill="#6e3a60" text-anchor="end" font-weight="normal" stroke="#6e3a60" stroke-width="0.15">0.5(29606.8)</text>
<text x="1473.50" y="359.70" font-size="10" fill="#e05555" text-anchor="end" font-weight="normal" stroke="#e05555" stroke-width="0.15">0.236(29223.0)</text>
<text x="1473.50" y="452.60" font-size="10" fill="#9a9a9a" text-anchor="end" font-weight="normal" stroke="#9a9a9a" stroke-width="0.15">0(28880.0)</text>
<circle cx="1003.2" cy="470.5" r="8" fill="#ffffff" stroke="#9c27b0" stroke-width="1.4"/>
<path d="M1005.8 466.2 L1000 470.8 L1006.4 470.2 L1000.6 475" fill="none" stroke="#9c27b0" stroke-width="1.5" stroke-linejoin="round" stroke-linecap="round"/>
<path d="M8.50,544.00 C15.53,542.43 15.50,539.17 29.60,539.30 C43.70,539.43 36.97,541.70 50.80,544.40 C64.63,547.10 58.70,546.13 71.10,547.40 C83.50,548.67 75.60,548.30 88.00,548.20 C100.40,548.10 97.00,548.50 108.30,547.10 C119.60,545.70 110.60,547.00 121.90,544.00 C133.20,541.00 129.23,541.77 142.20,538.10 C155.17,534.43 148.97,535.67 160.80,533.00 C172.63,530.33 166.97,531.50 177.70,530.10 C188.43,528.70 181.70,528.40 193.00,528.80 C204.30,529.20 196.93,529.60 211.60,531.30 C226.27,533.00 222.53,532.77 237.00,533.90 C251.47,535.03 240.53,534.70 255.00,534.70 C269.47,534.70 261.77,536.17 280.40,533.90 C299.03,531.63 295.67,531.20 310.90,527.90 C326.13,524.60 316.53,526.53 326.10,524.00 C335.67,521.47 329.43,519.93 339.60,520.30 C349.77,520.67 346.43,522.57 356.60,525.10 C366.77,527.63 359.97,524.97 370.10,527.90 C380.23,530.83 374.60,529.10 387.00,533.90 C399.40,538.70 394.87,538.07 407.30,542.30 C419.73,546.53 414.13,545.73 424.30,546.60 C434.47,547.47 427.67,546.43 437.80,544.90 C447.93,543.37 442.30,543.53 454.70,542.00 C467.10,540.47 460.90,541.60 475.00,540.30 C489.10,539.00 483.67,539.13 497.00,538.10 C510.33,537.07 505.03,538.07 515.00,537.20 C524.97,536.33 514.47,537.73 526.90,535.50 C539.33,533.27 538.20,532.73 552.30,530.50 C566.40,528.27 555.10,529.27 569.20,528.80 C583.30,528.33 577.67,528.67 594.60,529.10 C611.53,529.53 604.20,528.80 620.00,530.10 C635.80,531.40 627.90,531.20 642.00,533.00 C656.10,534.80 649.87,534.20 662.30,535.50 C674.73,536.80 666.87,534.73 679.30,536.90 C691.73,539.07 685.50,541.03 699.60,542.00 C713.70,542.97 706.93,541.67 721.60,539.80 C736.27,537.93 729.13,538.93 743.60,536.40 C758.07,533.87 752.23,534.87 765.00,532.20 C777.77,529.53 771.73,530.57 781.90,528.40 C792.07,526.23 787.03,528.40 795.50,525.70 C803.97,523.00 798.83,522.37 807.30,520.30 C815.77,518.23 808.47,519.37 820.90,519.50 C833.33,519.63 830.50,519.03 844.60,520.70 C858.70,522.37 850.80,521.93 863.20,524.50 C875.60,527.07 870.53,524.17 881.80,528.40 C893.07,532.63 885.17,530.87 897.00,537.20 C908.83,543.53 904.87,541.47 917.30,547.40 C929.73,553.33 921.30,550.93 934.30,555.00 C947.30,559.07 942.20,557.07 956.30,559.60 C970.40,562.13 965.90,562.17 976.60,562.60 C987.30,563.03 979.67,561.57 988.40,560.90 C997.13,560.23 998.00,560.70 1002.80,560.60" fill="none" stroke="#f9dc6e" stroke-width="1.4" stroke-linejoin="round" stroke-linecap="round"/>
<polyline points="8.50,547.10 17.80,543.20 24.50,547.40 30.10,542.30 35.90,552.10 42.30,557.60 48.70,555.00 54.20,544.90 60.10,545.70 66.90,556.70 72.80,547.40 78.70,539.80 84.60,550.40 90.60,545.70 96.50,543.70 102.40,542.00 109.20,538.60 115.10,524.50 121.00,527.60 126.90,526.70 133.70,522.90 139.60,520.00 145.60,522.00 151.50,527.40 157.40,532.20 163.80,537.60 169.80,530.10 175.20,533.00 182.00,531.80 187.90,535.90 194.70,531.30 200.20,546.60 206.20,535.20 212.40,539.80 218.40,533.00 224.30,525.40 230.50,527.90 237.00,534.70 242.00,536.40 248.80,541.10 254.70,538.10 261.40,529.60 266.80,529.60 272.80,531.00 280.00,535.20 285.50,533.00 290.90,518.30 297.30,520.30 304.10,513.50 309.20,510.20 315.10,507.10 321.90,510.20 327.80,510.20 333.70,519.50 340.00,517.80 346.40,554.50 352.30,551.30 358.30,555.90 364.20,551.60 370.90,554.50 376.50,551.10 382.30,552.50 388.40,539.30 393.80,542.00 399.70,543.20 407.30,543.20 413.30,537.60 418.80,535.20 425.10,533.90 431.00,535.90 437.50,542.00 443.20,538.10 449.30,544.90 455.60,541.00 461.80,544.40 467.90,541.50 474.20,543.70 479.80,532.50 486.00,538.10 492.00,533.90 497.90,532.50 503.80,536.90 510.60,526.20 516.40,522.00 522.20,531.30 527.80,532.20 534.50,528.30 540.10,527.60 546.40,529.10 552.30,522.30 559.10,526.60 565.00,527.90 570.90,531.30 577.40,535.50 583.10,536.40 588.70,533.50 595.00,525.40 601.40,527.40 607.30,530.10 613.30,533.90 619.20,535.50 625.90,541.50 631.90,539.30 637.30,536.10 643.70,532.50 650.10,532.20 655.90,542.30 662.00,545.70 667.80,541.50 673.80,542.80 680.10,542.70 686.00,545.40 692.50,554.50 698.70,553.70 704.70,536.40 710.60,530.80 717.30,531.80 722.90,525.40 729.20,520.30 734.80,520.80 741.50,526.20 747.30,520.30 753.40,525.40 759.20,530.10 765.60,526.70 771.80,526.20 777.70,531.30 783.60,529.60 790.40,527.10 796.30,518.30 801.90,497.50 807.70,486.80 814.40,518.30 820.00,513.50 825.90,533.50 832.70,527.90 838.60,522.90 844.60,529.60 850.50,540.30 856.40,546.60 862.80,552.10 868.60,544.00 874.70,542.70 881.80,543.70 887.20,540.30 893.30,546.00 899.10,571.40 905.50,560.90 911.90,563.00 917.30,564.70 923.30,566.40 930.00,570.20 936.00,566.40 941.90,565.20 947.80,567.40 954.20,560.10 959.70,560.10 966.40,556.20 971.80,554.50 977.90,554.50 984.20,552.80 990.10,557.20 996.00,558.90 1002.80,557.20" fill="none" stroke="#a84bb8" stroke-width="1.25" stroke-linejoin="round" stroke-linecap="round"/>
<line x1="12.5" y1="600.3" x2="12.5" y2="601.0" stroke="#ff5252" stroke-width="1"/>
<line x1="18.5" y1="600.3" x2="18.5" y2="601.3" stroke="#ff5252" stroke-width="1"/>
<line x1="24.5" y1="600.3" x2="24.5" y2="601.6" stroke="#ff5252" stroke-width="1"/>
<line x1="30.5" y1="600.3" x2="30.5" y2="601.3" stroke="#ffcdd2" stroke-width="1"/>
<line x1="36.5" y1="600.3" x2="36.5" y2="602.8" stroke="#ff5252" stroke-width="1"/>
<line x1="42.5" y1="600.3" x2="42.5" y2="604.6" stroke="#ff5252" stroke-width="1"/>
<line x1="48.5" y1="600.3" x2="48.5" y2="605.2" stroke="#ff5252" stroke-width="1"/>
<line x1="54.5" y1="600.3" x2="54.5" y2="603.8" stroke="#ffcdd2" stroke-width="1"/>
<line x1="60.5" y1="600.3" x2="60.5" y2="602.8" stroke="#ffcdd2" stroke-width="1"/>
<line x1="66.5" y1="600.3" x2="66.5" y2="604.4" stroke="#ff5252" stroke-width="1"/>
<line x1="72.5" y1="600.3" x2="72.5" y2="603.9" stroke="#ffcdd2" stroke-width="1"/>
<line x1="79.5" y1="600.3" x2="79.5" y2="601.5" stroke="#ffcdd2" stroke-width="1"/>
<line x1="85.5" y1="600.3" x2="85.5" y2="602.5" stroke="#ff5252" stroke-width="1"/>
<line x1="91.5" y1="600.3" x2="91.5" y2="602.3" stroke="#ffcdd2" stroke-width="1"/>
<line x1="97.5" y1="600.3" x2="97.5" y2="601.0" stroke="#ffcdd2" stroke-width="1"/>
<line x1="109.5" y1="600.3" x2="109.5" y2="599.2" stroke="#26a69a" stroke-width="1"/>
<line x1="115.5" y1="600.3" x2="115.5" y2="595.6" stroke="#26a69a" stroke-width="1"/>
<line x1="121.5" y1="600.3" x2="121.5" y2="594.9" stroke="#26a69a" stroke-width="1"/>
<line x1="127.5" y1="600.3" x2="127.5" y2="594.6" stroke="#26a69a" stroke-width="1"/>
<line x1="133.5" y1="600.3" x2="133.5" y2="594.1" stroke="#26a69a" stroke-width="1"/>
<line x1="139.5" y1="600.3" x2="139.5" y2="592.6" stroke="#26a69a" stroke-width="1"/>
<line x1="145.5" y1="600.3" x2="145.5" y2="591.7" stroke="#26a69a" stroke-width="1"/>
<line x1="151.5" y1="600.3" x2="151.5" y2="592.7" stroke="#b2dfdb" stroke-width="1"/>
<line x1="158.5" y1="600.3" x2="158.5" y2="594.8" stroke="#b2dfdb" stroke-width="1"/>
<line x1="164.5" y1="600.3" x2="164.5" y2="597.1" stroke="#b2dfdb" stroke-width="1"/>
<line x1="170.5" y1="600.3" x2="170.5" y2="597.7" stroke="#b2dfdb" stroke-width="1"/>
<line x1="176.5" y1="600.3" x2="176.5" y2="598.2" stroke="#b2dfdb" stroke-width="1"/>
<line x1="182.5" y1="600.3" x2="182.5" y2="599.2" stroke="#b2dfdb" stroke-width="1"/>
<line x1="188.5" y1="600.3" x2="188.5" y2="599.5" stroke="#b2dfdb" stroke-width="1"/>
<line x1="194.5" y1="600.3" x2="194.5" y2="599.5" stroke="#b2dfdb" stroke-width="1"/>
<line x1="200.5" y1="600.3" x2="200.5" y2="601.3" stroke="#ff5252" stroke-width="1"/>
<line x1="206.5" y1="600.3" x2="206.5" y2="601.8" stroke="#ff5252" stroke-width="1"/>
<line x1="212.5" y1="600.3" x2="212.5" y2="602.1" stroke="#ff5252" stroke-width="1"/>
<line x1="218.5" y1="600.3" x2="218.5" y2="601.4" stroke="#ffcdd2" stroke-width="1"/>
<line x1="224.5" y1="600.3" x2="224.5" y2="599.9" stroke="#26a69a" stroke-width="1"/>
<line x1="230.5" y1="600.3" x2="230.5" y2="599.1" stroke="#26a69a" stroke-width="1"/>
<line x1="237.5" y1="600.3" x2="237.5" y2="599.8" stroke="#b2dfdb" stroke-width="1"/>
<line x1="243.5" y1="600.3" x2="243.5" y2="600.6" stroke="#ff5252" stroke-width="1"/>
<line x1="249.5" y1="600.3" x2="249.5" y2="601.2" stroke="#ff5252" stroke-width="1"/>
<line x1="255.5" y1="600.3" x2="255.5" y2="601.1" stroke="#ffcdd2" stroke-width="1"/>
<line x1="267.5" y1="600.3" x2="267.5" y2="599.7" stroke="#26a69a" stroke-width="1"/>
<line x1="273.5" y1="600.3" x2="273.5" y2="599.1" stroke="#26a69a" stroke-width="1"/>
<line x1="279.5" y1="600.3" x2="279.5" y2="599.5" stroke="#b2dfdb" stroke-width="1"/>
<line x1="285.5" y1="600.3" x2="285.5" y2="599.9" stroke="#b2dfdb" stroke-width="1"/>
<line x1="291.5" y1="600.3" x2="291.5" y2="597.7" stroke="#26a69a" stroke-width="1"/>
<line x1="297.5" y1="600.3" x2="297.5" y2="596.5" stroke="#26a69a" stroke-width="1"/>
<line x1="303.5" y1="600.3" x2="303.5" y2="595.6" stroke="#26a69a" stroke-width="1"/>
<line x1="309.5" y1="600.3" x2="309.5" y2="594.4" stroke="#26a69a" stroke-width="1"/>
<line x1="315.5" y1="600.3" x2="315.5" y2="592.8" stroke="#26a69a" stroke-width="1"/>
<line x1="322.5" y1="600.3" x2="322.5" y2="592.2" stroke="#26a69a" stroke-width="1"/>
<line x1="328.5" y1="600.3" x2="328.5" y2="592.7" stroke="#b2dfdb" stroke-width="1"/>
<line x1="334.5" y1="600.3" x2="334.5" y2="594.4" stroke="#b2dfdb" stroke-width="1"/>
<line x1="340.5" y1="600.3" x2="340.5" y2="596.3" stroke="#b2dfdb" stroke-width="1"/>
<line x1="346.5" y1="600.3" x2="346.5" y2="602.7" stroke="#ff5252" stroke-width="1"/>
<line x1="352.5" y1="600.3" x2="352.5" y2="606.9" stroke="#ff5252" stroke-width="1"/>
<line x1="358.5" y1="600.3" x2="358.5" y2="610.3" stroke="#ff5252" stroke-width="1"/>
<line x1="364.5" y1="600.3" x2="364.5" y2="611.2" stroke="#ff5252" stroke-width="1"/>
<line x1="370.5" y1="600.3" x2="370.5" y2="611.3" stroke="#ff5252" stroke-width="1"/>
<line x1="376.5" y1="600.3" x2="376.5" y2="611.4" stroke="#ff5252" stroke-width="1"/>
<line x1="382.5" y1="600.3" x2="382.5" y2="611.4" stroke="#ff5252" stroke-width="1"/>
<line x1="388.5" y1="600.3" x2="388.5" y2="608.4" stroke="#ffcdd2" stroke-width="1"/>
<line x1="394.5" y1="600.3" x2="394.5" y2="606.1" stroke="#ffcdd2" stroke-width="1"/>
<line x1="401.5" y1="600.3" x2="401.5" y2="605.1" stroke="#ffcdd2" stroke-width="1"/>
<line x1="407.5" y1="600.3" x2="407.5" y2="604.2" stroke="#ffcdd2" stroke-width="1"/>
<line x1="413.5" y1="600.3" x2="413.5" y2="602.7" stroke="#ffcdd2" stroke-width="1"/>
<line x1="419.5" y1="600.3" x2="419.5" y2="601.1" stroke="#ffcdd2" stroke-width="1"/>
<line x1="425.5" y1="600.3" x2="425.5" y2="599.9" stroke="#26a69a" stroke-width="1"/>
<line x1="431.5" y1="600.3" x2="431.5" y2="599.3" stroke="#26a69a" stroke-width="1"/>
<line x1="437.5" y1="600.3" x2="437.5" y2="600.0" stroke="#b2dfdb" stroke-width="1"/>
<line x1="443.5" y1="600.3" x2="443.5" y2="599.6" stroke="#26a69a" stroke-width="1"/>
<line x1="480.5" y1="600.3" x2="480.5" y2="599.0" stroke="#26a69a" stroke-width="1"/>
<line x1="486.5" y1="600.3" x2="486.5" y2="598.7" stroke="#26a69a" stroke-width="1"/>
<line x1="492.5" y1="600.3" x2="492.5" y2="598.2" stroke="#26a69a" stroke-width="1"/>
<line x1="498.5" y1="600.3" x2="498.5" y2="598.0" stroke="#26a69a" stroke-width="1"/>
<line x1="504.5" y1="600.3" x2="504.5" y2="597.9" stroke="#26a69a" stroke-width="1"/>
<line x1="510.5" y1="600.3" x2="510.5" y2="596.2" stroke="#26a69a" stroke-width="1"/>
<line x1="516.5" y1="600.3" x2="516.5" y2="595.2" stroke="#26a69a" stroke-width="1"/>
<line x1="522.5" y1="600.3" x2="522.5" y2="595.9" stroke="#b2dfdb" stroke-width="1"/>
<line x1="528.5" y1="600.3" x2="528.5" y2="596.6" stroke="#b2dfdb" stroke-width="1"/>
<line x1="534.5" y1="600.3" x2="534.5" y2="596.8" stroke="#b2dfdb" stroke-width="1"/>
<line x1="540.5" y1="600.3" x2="540.5" y2="597.0" stroke="#b2dfdb" stroke-width="1"/>
<line x1="546.5" y1="600.3" x2="546.5" y2="597.0" stroke="#b2dfdb" stroke-width="1"/>
<line x1="552.5" y1="600.3" x2="552.5" y2="597.1" stroke="#b2dfdb" stroke-width="1"/>
<line x1="558.5" y1="600.3" x2="558.5" y2="597.7" stroke="#b2dfdb" stroke-width="1"/>
<line x1="565.5" y1="600.3" x2="565.5" y2="598.1" stroke="#b2dfdb" stroke-width="1"/>
<line x1="571.5" y1="600.3" x2="571.5" y2="598.7" stroke="#b2dfdb" stroke-width="1"/>
<line x1="577.5" y1="600.3" x2="577.5" y2="599.3" stroke="#b2dfdb" stroke-width="1"/>
<line x1="583.5" y1="600.3" x2="583.5" y2="600.0" stroke="#b2dfdb" stroke-width="1"/>
<line x1="601.5" y1="600.3" x2="601.5" y2="599.8" stroke="#26a69a" stroke-width="1"/>
<line x1="619.5" y1="600.3" x2="619.5" y2="600.7" stroke="#ff5252" stroke-width="1"/>
<line x1="625.5" y1="600.3" x2="625.5" y2="601.4" stroke="#ff5252" stroke-width="1"/>
<line x1="631.5" y1="600.3" x2="631.5" y2="601.6" stroke="#ff5252" stroke-width="1"/>
<line x1="637.5" y1="600.3" x2="637.5" y2="601.6" stroke="#ff5252" stroke-width="1"/>
<line x1="644.5" y1="600.3" x2="644.5" y2="601.1" stroke="#ffcdd2" stroke-width="1"/>
<line x1="650.5" y1="600.3" x2="650.5" y2="600.8" stroke="#ffcdd2" stroke-width="1"/>
<line x1="656.5" y1="600.3" x2="656.5" y2="601.4" stroke="#ff5252" stroke-width="1"/>
<line x1="662.5" y1="600.3" x2="662.5" y2="602.0" stroke="#ff5252" stroke-width="1"/>
<line x1="668.5" y1="600.3" x2="668.5" y2="601.9" stroke="#ffcdd2" stroke-width="1"/>
<line x1="674.5" y1="600.3" x2="674.5" y2="601.8" stroke="#ffcdd2" stroke-width="1"/>
<line x1="680.5" y1="600.3" x2="680.5" y2="601.6" stroke="#ffcdd2" stroke-width="1"/>
<line x1="686.5" y1="600.3" x2="686.5" y2="601.4" stroke="#ffcdd2" stroke-width="1"/>
<line x1="692.5" y1="600.3" x2="692.5" y2="602.3" stroke="#ff5252" stroke-width="1"/>
<line x1="698.5" y1="600.3" x2="698.5" y2="602.6" stroke="#ff5252" stroke-width="1"/>
<line x1="704.5" y1="600.3" x2="704.5" y2="601.3" stroke="#ffcdd2" stroke-width="1"/>
<line x1="716.5" y1="600.3" x2="716.5" y2="599.2" stroke="#26a69a" stroke-width="1"/>
<line x1="723.5" y1="600.3" x2="723.5" y2="598.6" stroke="#26a69a" stroke-width="1"/>
<line x1="729.5" y1="600.3" x2="729.5" y2="598.0" stroke="#26a69a" stroke-width="1"/>
<line x1="735.5" y1="600.3" x2="735.5" y2="597.8" stroke="#26a69a" stroke-width="1"/>
<line x1="741.5" y1="600.3" x2="741.5" y2="597.8" stroke="#26a69a" stroke-width="1"/>
<line x1="747.5" y1="600.3" x2="747.5" y2="597.8" stroke="#b2dfdb" stroke-width="1"/>
<line x1="753.5" y1="600.3" x2="753.5" y2="598.2" stroke="#b2dfdb" stroke-width="1"/>
<line x1="759.5" y1="600.3" x2="759.5" y2="598.5" stroke="#b2dfdb" stroke-width="1"/>
<line x1="765.5" y1="600.3" x2="765.5" y2="598.7" stroke="#b2dfdb" stroke-width="1"/>
<line x1="771.5" y1="600.3" x2="771.5" y2="599.0" stroke="#b2dfdb" stroke-width="1"/>
<line x1="777.5" y1="600.3" x2="777.5" y2="599.5" stroke="#b2dfdb" stroke-width="1"/>
<line x1="783.5" y1="600.3" x2="783.5" y2="599.8" stroke="#b2dfdb" stroke-width="1"/>
<line x1="789.5" y1="600.3" x2="789.5" y2="599.8" stroke="#26a69a" stroke-width="1"/>
<line x1="795.5" y1="600.3" x2="795.5" y2="599.6" stroke="#26a69a" stroke-width="1"/>
<line x1="801.5" y1="600.3" x2="801.5" y2="596.9" stroke="#26a69a" stroke-width="1"/>
<line x1="808.5" y1="600.3" x2="808.5" y2="593.7" stroke="#26a69a" stroke-width="1"/>
<line x1="814.5" y1="600.3" x2="814.5" y2="594.3" stroke="#b2dfdb" stroke-width="1"/>
<line x1="820.5" y1="600.3" x2="820.5" y2="594.3" stroke="#26a69a" stroke-width="1"/>
<line x1="826.5" y1="600.3" x2="826.5" y2="597.1" stroke="#b2dfdb" stroke-width="1"/>
<line x1="832.5" y1="600.3" x2="832.5" y2="598.5" stroke="#b2dfdb" stroke-width="1"/>
<line x1="838.5" y1="600.3" x2="838.5" y2="598.8" stroke="#b2dfdb" stroke-width="1"/>
<line x1="850.5" y1="600.3" x2="850.5" y2="602.2" stroke="#ff5252" stroke-width="1"/>
<line x1="856.5" y1="600.3" x2="856.5" y2="605.1" stroke="#ff5252" stroke-width="1"/>
<line x1="862.5" y1="600.3" x2="862.5" y2="607.9" stroke="#ff5252" stroke-width="1"/>
<line x1="868.5" y1="600.3" x2="868.5" y2="608.4" stroke="#ff5252" stroke-width="1"/>
<line x1="874.5" y1="600.3" x2="874.5" y2="608.5" stroke="#ff5252" stroke-width="1"/>
<line x1="880.5" y1="600.3" x2="880.5" y2="607.7" stroke="#ffcdd2" stroke-width="1"/>
<line x1="887.5" y1="600.3" x2="887.5" y2="606.5" stroke="#ffcdd2" stroke-width="1"/>
<line x1="893.5" y1="600.3" x2="893.5" y2="606.1" stroke="#ffcdd2" stroke-width="1"/>
<line x1="899.5" y1="600.3" x2="899.5" y2="614.4" stroke="#ff5252" stroke-width="1"/>
<line x1="905.5" y1="600.3" x2="905.5" y2="615.5" stroke="#ff5252" stroke-width="1"/>
<line x1="911.5" y1="600.3" x2="911.5" y2="615.9" stroke="#ff5252" stroke-width="1"/>
<line x1="917.5" y1="600.3" x2="917.5" y2="616.7" stroke="#ff5252" stroke-width="1"/>
<line x1="923.5" y1="600.3" x2="923.5" y2="616.9" stroke="#ff5252" stroke-width="1"/>
<line x1="929.5" y1="600.3" x2="929.5" y2="618.2" stroke="#ff5252" stroke-width="1"/>
<line x1="935.5" y1="600.3" x2="935.5" y2="617.8" stroke="#ffcdd2" stroke-width="1"/>
<line x1="941.5" y1="600.3" x2="941.5" y2="615.7" stroke="#ffcdd2" stroke-width="1"/>
<line x1="947.5" y1="600.3" x2="947.5" y2="614.1" stroke="#ffcdd2" stroke-width="1"/>
<line x1="953.5" y1="600.3" x2="953.5" y2="610.8" stroke="#ffcdd2" stroke-width="1"/>
<line x1="959.5" y1="600.3" x2="959.5" y2="607.9" stroke="#ffcdd2" stroke-width="1"/>
<line x1="966.5" y1="600.3" x2="966.5" y2="605.1" stroke="#ffcdd2" stroke-width="1"/>
<line x1="972.5" y1="600.3" x2="972.5" y2="602.1" stroke="#ffcdd2" stroke-width="1"/>
<line x1="978.5" y1="600.3" x2="978.5" y2="599.2" stroke="#26a69a" stroke-width="1"/>
<line x1="984.5" y1="600.3" x2="984.5" y2="597.5" stroke="#26a69a" stroke-width="1"/>
<line x1="990.5" y1="600.3" x2="990.5" y2="596.9" stroke="#26a69a" stroke-width="1"/>
<line x1="996.5" y1="600.3" x2="996.5" y2="596.9" stroke="#26a69a" stroke-width="1"/>
<line x1="1002.5" y1="600.3" x2="1002.5" y2="596.4" stroke="#26a69a" stroke-width="1"/>
<path d="M8.50,609.70 C15.83,610.10 17.53,609.60 30.50,610.90 C43.47,612.20 35.00,611.73 47.40,613.60 C59.80,615.47 55.30,614.97 67.70,616.50 C80.10,618.03 73.30,617.47 84.60,618.20 C95.90,618.93 91.43,619.27 101.60,618.70 C111.77,618.13 104.97,619.33 115.10,616.50 C125.23,613.67 120.73,614.17 132.00,610.20 C143.27,606.23 138.73,607.60 148.90,604.60 C159.07,601.60 153.47,602.73 162.50,601.20 C171.53,599.67 166.97,600.57 176.00,600.00 C185.03,599.43 180.57,599.37 189.60,599.50 C198.63,599.63 192.97,600.00 203.10,600.40 C213.23,600.80 208.70,600.83 220.00,600.70 C231.30,600.57 225.33,599.83 237.00,600.00 C248.67,600.17 238.83,601.07 255.00,601.20 C271.17,601.33 271.40,601.23 285.50,600.40 C299.60,599.57 288.83,600.67 297.30,598.70 C305.77,596.73 301.30,597.43 310.90,594.50 C320.50,591.57 316.53,592.47 326.10,589.90 C335.67,587.33 331.70,586.97 339.60,586.80 C347.50,586.63 343.00,587.13 349.80,589.40 C356.60,591.67 352.67,590.07 360.00,593.60 C367.33,597.13 363.93,595.93 371.80,600.00 C379.67,604.07 375.70,602.57 383.60,605.80 C391.50,609.03 387.60,607.83 395.50,609.70 C403.40,611.57 397.70,611.00 407.30,611.40 C416.90,611.80 413.00,611.47 424.30,610.90 C435.60,610.33 429.93,610.10 441.20,609.70 C452.47,609.30 446.83,609.70 458.10,609.70 C469.37,609.70 463.70,610.10 475.00,609.70 C486.30,609.30 480.33,609.47 492.00,608.50 C503.67,607.53 498.37,608.37 510.00,606.80 C521.63,605.23 515.60,605.67 526.90,603.80 C538.20,601.93 532.60,602.90 543.90,601.20 C555.20,599.50 549.53,599.80 560.80,598.70 C572.07,597.60 566.43,598.30 577.70,597.90 C588.97,597.50 583.30,597.63 594.60,597.50 C605.90,597.37 600.30,597.20 611.60,597.50 C622.90,597.80 617.23,597.73 628.50,598.40 C639.77,599.07 634.13,598.83 645.40,599.50 C656.67,600.17 651.00,599.67 662.30,600.40 C673.60,601.13 668.00,600.70 679.30,601.70 C690.60,602.70 684.93,602.70 696.20,603.40 C707.47,604.10 701.83,604.23 713.10,603.80 C724.37,603.37 718.70,603.37 730.00,602.10 C741.30,600.83 733.67,601.13 747.00,600.00 C760.33,598.87 758.37,599.23 770.00,598.70 C781.63,598.17 772.27,598.87 781.90,598.40 C791.53,597.93 788.73,598.77 798.90,597.30 C809.07,595.83 803.97,595.80 812.40,594.00 C820.83,592.20 815.73,593.00 824.20,591.90 C832.67,590.80 831.00,591.13 837.80,590.70 C844.60,590.27 838.40,590.07 844.60,590.60 C850.80,591.13 847.93,590.43 856.40,592.30 C864.87,594.17 860.97,593.63 870.00,596.20 C879.03,598.77 874.50,597.47 883.50,600.00 C892.50,602.53 889.67,600.57 897.00,603.80 C904.33,607.03 898.73,604.90 905.50,609.70 C912.27,614.50 908.83,612.57 917.30,618.20 C925.77,623.83 921.87,621.27 930.90,626.60 C939.93,631.93 935.93,629.97 944.40,634.20 C952.87,638.43 948.40,636.73 956.30,639.30 C964.20,641.87 960.77,641.03 968.10,641.90 C975.43,642.77 970.97,642.30 978.30,641.90 C985.63,641.50 981.93,641.83 990.10,640.70 C998.27,639.57 998.57,639.23 1002.80,638.50" fill="none" stroke="#ff8a3d" stroke-width="1.25" stroke-linejoin="round" stroke-linecap="round"/>
<polyline points="8.50,610.20 16.90,611.10 23.70,611.90 30.50,611.90 36.40,614.30 42.30,617.00 48.20,618.70 54.20,618.20 60.10,617.70 66.00,620.40 72.80,620.70 78.70,618.70 84.60,620.40 91.40,620.40 97.30,619.30 103.20,618.20 109.20,616.50 115.10,611.90 121.00,608.90 127.30,606.30 133.70,603.40 139.60,600.00 145.60,597.00 151.50,596.20 157.40,596.70 163.30,597.90 169.30,597.90 176.00,597.90 182.80,598.70 188.70,598.70 194.70,599.00 200.60,601.20 207.30,602.10 213.30,602.40 219.20,601.70 225.10,600.00 231.00,599.00 237.00,599.50 242.90,600.70 248.80,601.70 254.70,602.10 263.50,600.70 273.60,599.50 285.50,600.00 291.40,597.00 297.30,595.00 304.10,591.90 310.00,588.90 315.90,585.50 321.90,583.10 327.80,581.80 333.70,582.10 339.60,582.10 345.60,590.20 352.30,597.00 358.30,602.90 364.20,606.80 370.90,610.50 376.90,613.60 382.80,616.50 388.70,615.60 394.60,615.30 400.60,615.30 407.30,615.30 413.30,613.60 419.20,611.90 425.10,610.50 431.00,609.40 437.00,609.70 442.90,608.90 449.60,609.70 455.60,609.70 461.50,609.70 467.40,609.70 473.40,609.70 480.10,608.00 486.90,607.20 492.80,606.30 498.70,605.50 503.80,605.10 509.70,602.90 516.80,600.40 526.90,600.00 540.50,598.40 552.30,596.70 564.20,596.20 577.70,597.00 589.60,597.90 601.40,597.00 615.00,597.50 626.80,599.50 638.60,600.40 648.80,600.00 662.30,602.10 675.90,602.90 686.00,603.40 692.80,605.10 698.70,605.80 704.70,604.60 716.50,602.40 728.40,600.00 736.80,598.70 747.00,597.50 758.80,597.50 770.00,597.30 781.90,597.90 795.50,597.00 801.40,593.60 807.70,588.50 814.10,587.70 820.00,586.50 825.90,588.50 831.90,589.40 837.80,589.00 844.60,590.60 850.50,593.30 856.40,597.00 863.20,602.10 869.10,604.10 875.00,605.80 881.80,606.80 887.20,607.20 893.30,608.50 899.10,619.30 905.50,624.90 911.90,630.00 917.30,634.60 924.10,639.00 930.00,644.10 936.00,646.90 941.90,648.10 947.80,649.50 953.70,648.80 959.70,647.80 966.40,646.10 972.30,643.60 978.30,640.70 984.20,638.50 990.10,637.30 996.00,636.30 1002.80,634.60" fill="none" stroke="#4a7bff" stroke-width="1.25" stroke-linejoin="round" stroke-linecap="round"/>
<text x="15.40" y="38.30" font-size="10" fill="#5a5a5a" text-anchor="start" font-weight="normal" textLength="148.1" lengthAdjust="spacingAndGlyphs" stroke="#5a5a5a" stroke-width="0.15">Bitcoin / U.S. Dollar, 1h, KRAKEN</text>
<text x="170.00" y="38.30" font-size="10" fill="#5a5a5a" text-anchor="start" font-weight="normal" textLength="7.6" lengthAdjust="spacingAndGlyphs" stroke="#5a5a5a" stroke-width="0.15">O</text>
<text x="177.60" y="38.30" font-size="10" fill="#4b7d5e" text-anchor="start" font-weight="normal" textLength="32.8" lengthAdjust="spacingAndGlyphs" stroke="#4b7d5e" stroke-width="0.15">29084.1</text>
<text x="218.20" y="38.30" font-size="10" fill="#5a5a5a" text-anchor="start" font-weight="normal" textLength="7.2" lengthAdjust="spacingAndGlyphs" stroke="#5a5a5a" stroke-width="0.15">H</text>
<text x="225.40" y="38.30" font-size="10" fill="#4b7d5e" text-anchor="start" font-weight="normal" textLength="34.5" lengthAdjust="spacingAndGlyphs" stroke="#4b7d5e" stroke-width="0.15">29098.5</text>
<text x="266.50" y="38.30" font-size="10" fill="#5a5a5a" text-anchor="start" font-weight="normal" textLength="5.6" lengthAdjust="spacingAndGlyphs" stroke="#5a5a5a" stroke-width="0.15">L</text>
<text x="272.10" y="38.30" font-size="10" fill="#4b7d5e" text-anchor="start" font-weight="normal" textLength="34.199999999999996" lengthAdjust="spacingAndGlyphs" stroke="#4b7d5e" stroke-width="0.15">29060.9</text>
<text x="312.80" y="38.30" font-size="10" fill="#5a5a5a" text-anchor="start" font-weight="normal" textLength="7.2" lengthAdjust="spacingAndGlyphs" stroke="#5a5a5a" stroke-width="0.15">C</text>
<text x="320.00" y="38.30" font-size="10" fill="#4b7d5e" text-anchor="start" font-weight="normal" textLength="32.9" lengthAdjust="spacingAndGlyphs" stroke="#4b7d5e" stroke-width="0.15">29096.6</text>
<text x="360.00" y="38.30" font-size="10" fill="#4b7d5e" text-anchor="start" font-weight="normal" textLength="65.3" lengthAdjust="spacingAndGlyphs" stroke="#4b7d5e" stroke-width="0.15">+12.5 (+0.04%)</text>
<text x="15.40" y="52.10" font-size="10" fill="#5a5a5a" text-anchor="start" font-weight="normal" textLength="127" lengthAdjust="spacingAndGlyphs" stroke="#5a5a5a" stroke-width="0.15">MA (100, close, 0, SMA, 100)</text>
<text x="15.40" y="497.50" font-size="10" fill="#5a5a5a" text-anchor="start" font-weight="normal" textLength="117.1" lengthAdjust="spacingAndGlyphs" stroke="#5a5a5a" stroke-width="0.15">RSI (14, close, SMA, 14, 2)</text>
<text x="139.40" y="497.50" font-size="10" fill="#9c33b0" text-anchor="start" font-weight="normal" textLength="23.2" lengthAdjust="spacingAndGlyphs" stroke="#9c33b0" stroke-width="0.15">34.01</text>
<text x="169.70" y="497.50" font-size="10" fill="#f5d83a" text-anchor="start" font-weight="normal" textLength="24.1" lengthAdjust="spacingAndGlyphs" stroke="#f5d83a" stroke-width="0.15">31.86</text>
<text x="201.30" y="497.50" font-size="10" fill="#5a5a5a" text-anchor="start" font-weight="normal" textLength="5.7" lengthAdjust="spacingAndGlyphs" stroke="#5a5a5a" stroke-width="0.15">Ø</text>
<text x="213.40" y="497.50" font-size="10" fill="#5a5a5a" text-anchor="start" font-weight="normal" textLength="6.5" lengthAdjust="spacingAndGlyphs" stroke="#5a5a5a" stroke-width="0.15">Ø</text>
<text x="14.90" y="594.10" font-size="10" fill="#5a5a5a" text-anchor="start" font-weight="normal" textLength="155" lengthAdjust="spacingAndGlyphs" stroke="#5a5a5a" stroke-width="0.15">MACD (12, 26, close, 9, EMA, EMA)</text>
<text x="176.60" y="594.10" font-size="10" fill="#26a69a" text-anchor="start" font-weight="normal" textLength="18.8" lengthAdjust="spacingAndGlyphs" stroke="#26a69a" stroke-width="0.15">18.2</text>
<text x="202.40" y="594.10" font-size="10" fill="#2f6bff" text-anchor="start" font-weight="normal" textLength="29.4" lengthAdjust="spacingAndGlyphs" stroke="#2f6bff" stroke-width="0.15">−162.2</text>
<text x="238.50" y="594.10" font-size="10" fill="#ff7a1a" text-anchor="start" font-weight="normal" textLength="29.5" lengthAdjust="spacingAndGlyphs" stroke="#ff7a1a" stroke-width="0.15">−180.4</text>
<text x="148.70" y="52.10" font-size="10" fill="#f23a50" text-anchor="start" font-weight="normal" textLength="34.4" lengthAdjust="spacingAndGlyphs" stroke="#f23a50" stroke-width="0.15">29754.1</text>
<rect x="1481.2" y="22.5" width="45.8" height="632.0" fill="#ffffff"/>
<line x1="1481.2" y1="51" x2="1481.2" y2="677.5" stroke="#787878" stroke-width="1.2"/>
<text x="1487.00" y="482.85" font-size="10" fill="#474747" text-anchor="start" font-weight="normal" textLength="32" lengthAdjust="spacingAndGlyphs" stroke="#474747" stroke-width="0.15">28800.0</text>
<text x="1487.00" y="455.88" font-size="10" fill="#474747" text-anchor="start" font-weight="normal" textLength="32" lengthAdjust="spacingAndGlyphs" stroke="#474747" stroke-width="0.15">28900.0</text>
<text x="1487.00" y="428.91" font-size="10" fill="#474747" text-anchor="start" font-weight="normal" textLength="32" lengthAdjust="spacingAndGlyphs" stroke="#474747" stroke-width="0.15">29000.0</text>
<text x="1487.00" y="401.94" font-size="10" fill="#474747" text-anchor="start" font-weight="normal" textLength="32" lengthAdjust="spacingAndGlyphs" stroke="#474747" stroke-width="0.15">29100.0</text>
<text x="1487.00" y="374.97" font-size="10" fill="#474747" text-anchor="start" font-weight="normal" textLength="32" lengthAdjust="spacingAndGlyphs" stroke="#474747" stroke-width="0.15">29200.0</text>
<text x="1487.00" y="348.00" font-size="10" fill="#474747" text-anchor="start" font-weight="normal" textLength="32" lengthAdjust="spacingAndGlyphs" stroke="#474747" stroke-width="0.15">29300.0</text>
<text x="1487.00" y="321.03" font-size="10" fill="#474747" text-anchor="start" font-weight="normal" textLength="32" lengthAdjust="spacingAndGlyphs" stroke="#474747" stroke-width="0.15">29400.0</text>
<text x="1487.00" y="294.06" font-size="10" fill="#474747" text-anchor="start" font-weight="normal" textLength="32" lengthAdjust="spacingAndGlyphs" stroke="#474747" stroke-width="0.15">29500.0</text>
<text x="1487.00" y="267.09" font-size="10" fill="#474747" text-anchor="start" font-weight="normal" textLength="32" lengthAdjust="spacingAndGlyphs" stroke="#474747" stroke-width="0.15">29600.0</text>
<text x="1487.00" y="240.12" font-size="10" fill="#474747" text-anchor="start" font-weight="normal" textLength="32" lengthAdjust="spacingAndGlyphs" stroke="#474747" stroke-width="0.15">29700.0</text>
<text x="1487.00" y="213.15" font-size="10" fill="#474747" text-anchor="start" font-weight="normal" textLength="32" lengthAdjust="spacingAndGlyphs" stroke="#474747" stroke-width="0.15">29800.0</text>
<text x="1487.00" y="186.18" font-size="10" fill="#474747" text-anchor="start" font-weight="normal" textLength="32" lengthAdjust="spacingAndGlyphs" stroke="#474747" stroke-width="0.15">29900.0</text>
<text x="1487.00" y="159.21" font-size="10" fill="#474747" text-anchor="start" font-weight="normal" textLength="32" lengthAdjust="spacingAndGlyphs" stroke="#474747" stroke-width="0.15">30000.0</text>
<text x="1487.00" y="132.24" font-size="10" fill="#474747" text-anchor="start" font-weight="normal" textLength="32" lengthAdjust="spacingAndGlyphs" stroke="#474747" stroke-width="0.15">30100.0</text>
<text x="1487.00" y="105.27" font-size="10" fill="#474747" text-anchor="start" font-weight="normal" textLength="32" lengthAdjust="spacingAndGlyphs" stroke="#474747" stroke-width="0.15">30200.0</text>
<text x="1487.00" y="78.30" font-size="10" fill="#474747" text-anchor="start" font-weight="normal" textLength="32" lengthAdjust="spacingAndGlyphs" stroke="#474747" stroke-width="0.15">30300.0</text>
<rect x="1481.2" y="481.5" width="45.8" height="4" fill="#ffffff"/>
<text x="1487.00" y="492.00" font-size="10" fill="#474747" text-anchor="start" font-weight="normal" textLength="23.5" lengthAdjust="spacingAndGlyphs" stroke="#474747" stroke-width="0.15">80.00</text>
<text x="1487.00" y="522.25" font-size="10" fill="#474747" text-anchor="start" font-weight="normal" textLength="23.5" lengthAdjust="spacingAndGlyphs" stroke="#474747" stroke-width="0.15">60.00</text>
<text x="1487.00" y="552.50" font-size="10" fill="#474747" text-anchor="start" font-weight="normal" textLength="23.5" lengthAdjust="spacingAndGlyphs" stroke="#474747" stroke-width="0.15">40.00</text>
<text x="1487.00" y="604.10" font-size="10" fill="#474747" text-anchor="start" font-weight="normal" textLength="13.5" lengthAdjust="spacingAndGlyphs" stroke="#474747" stroke-width="0.15">0.0</text>
<text x="1486.80" y="646.60" font-size="10" fill="#474747" text-anchor="start" font-weight="normal" textLength="27" lengthAdjust="spacingAndGlyphs" stroke="#474747" stroke-width="0.15">-200.0</text>
<path d="M1481.2 48.4 H1523.1 V49.6 Q1523.1 50.6 1522 50.6 H1481.2 Z" fill="#ff0000"/>
<path d="M1481.2 57.6 H1521.1 Q1523.1 57.6 1523.1 59.6 V69.8 Q1523.1 71.8 1521.1 71.8 H1481.2 Z" fill="#ff0000"/>
<text x="1487.50" y="69.30" font-size="10" fill="#ffffff" text-anchor="start" font-weight="normal" textLength="32" lengthAdjust="spacingAndGlyphs" stroke="#ffffff" stroke-width="0.3">30334.8</text>
<path d="M1481.2 241.8 H1521.1 Q1523.1 241.8 1523.1 243.8 V254.0 Q1523.1 256.0 1521.1 256.0 H1481.2 Z" fill="#ff0000"/>
<text x="1487.50" y="253.50" font-size="10" fill="#ffffff" text-anchor="start" font-weight="normal" textLength="32" lengthAdjust="spacingAndGlyphs" stroke="#ffffff" stroke-width="0.3">29654.0</text>
<path d="M1481.2 358.9 H1521.1 Q1523.1 358.9 1523.1 360.9 V371.1 Q1523.1 373.1 1521.1 373.1 H1481.2 Z" fill="#ff0000"/>
<text x="1487.50" y="370.60" font-size="10" fill="#ffffff" text-anchor="start" font-weight="normal" textLength="32" lengthAdjust="spacingAndGlyphs" stroke="#ffffff" stroke-width="0.3">29220.5</text>
<path d="M1481.2 451.1 H1521.1 Q1523.1 451.1 1523.1 453.1 V462.7 Q1523.1 464.7 1521.1 464.7 H1481.2 Z" fill="#4caf50"/>
<text x="1487.50" y="462.50" font-size="10" fill="#ffffff" text-anchor="start" font-weight="normal" textLength="32" lengthAdjust="spacingAndGlyphs" stroke="#ffffff" stroke-width="0.3">28878.6</text>
<path d="M1480.5 392.2 H1521.4 Q1523.4 392.2 1523.4 394.2 V415 Q1523.4 417 1521.4 417 H1480.5 Z" fill="#0000ff"/>
<text x="1487.50" y="403.90" font-size="10" fill="#ffffff" text-anchor="start" font-weight="normal" textLength="32" lengthAdjust="spacingAndGlyphs" stroke="#ffffff" stroke-width="0.35">29096.6</text>
<text x="1487.50" y="414.90" font-size="10" fill="#d4d4ff" text-anchor="start" font-weight="normal" textLength="22" lengthAdjust="spacingAndGlyphs" stroke="#d4d4ff" stroke-width="0.3">35:44</text>
<rect x="1484.5" y="26.5" width="39.5" height="19" rx="3" fill="#ffffff" stroke="#e0e3eb" stroke-width="1"/>
<text x="1499.80" y="39.60" font-size="10" fill="#474747" text-anchor="middle" font-weight="normal" textLength="16" lengthAdjust="spacingAndGlyphs" stroke="#474747" stroke-width="0.15">USD</text>
<line x1="8" y1="654.5" x2="1527" y2="654.5" stroke="#787878" stroke-width="1.2"/>
<line x1="8" y1="481.5" x2="1527" y2="481.5" stroke="#e0e3eb" stroke-width="1"/>
<line x1="8" y1="577.5" x2="1527" y2="577.5" stroke="#e0e3eb" stroke-width="1"/>
<text x="43.40" y="668.80" font-size="10.3" fill="#474747" text-anchor="middle" font-weight="normal" textLength="22" lengthAdjust="spacingAndGlyphs" stroke="#474747" stroke-width="0.15">12:00</text>
<text x="116.29" y="668.80" font-size="10.3" fill="#474747" text-anchor="middle" font-weight="normal" textLength="9.5" lengthAdjust="spacingAndGlyphs" stroke="#474747" stroke-width="0.15">19</text>
<text x="189.18" y="668.80" font-size="10.3" fill="#474747" text-anchor="middle" font-weight="normal" textLength="22" lengthAdjust="spacingAndGlyphs" stroke="#474747" stroke-width="0.15">12:00</text>
<text x="262.07" y="668.80" font-size="10.3" fill="#474747" text-anchor="middle" font-weight="normal" textLength="9.5" lengthAdjust="spacingAndGlyphs" stroke="#474747" stroke-width="0.15">20</text>
<text x="334.96" y="668.80" font-size="10.3" fill="#474747" text-anchor="middle" font-weight="normal" textLength="22" lengthAdjust="spacingAndGlyphs" stroke="#474747" stroke-width="0.15">12:00</text>
<text x="407.85" y="668.80" font-size="10.3" fill="#474747" text-anchor="middle" font-weight="normal" textLength="9.5" lengthAdjust="spacingAndGlyphs" stroke="#474747" stroke-width="0.15">21</text>
<text x="480.74" y="668.80" font-size="10.3" fill="#474747" text-anchor="middle" font-weight="normal" textLength="22" lengthAdjust="spacingAndGlyphs" stroke="#474747" stroke-width="0.15">12:00</text>
<text x="553.63" y="668.80" font-size="10.3" fill="#474747" text-anchor="middle" font-weight="normal" textLength="9.5" lengthAdjust="spacingAndGlyphs" stroke="#474747" stroke-width="0.15">22</text>
<text x="626.52" y="668.80" font-size="10.3" fill="#474747" text-anchor="middle" font-weight="normal" textLength="22" lengthAdjust="spacingAndGlyphs" stroke="#474747" stroke-width="0.15">12:00</text>
<text x="699.41" y="668.80" font-size="10.3" fill="#474747" text-anchor="middle" font-weight="normal" textLength="9.5" lengthAdjust="spacingAndGlyphs" stroke="#474747" stroke-width="0.15">23</text>
<text x="772.30" y="668.80" font-size="10.3" fill="#474747" text-anchor="middle" font-weight="normal" textLength="22" lengthAdjust="spacingAndGlyphs" stroke="#474747" stroke-width="0.15">12:00</text>
<text x="845.19" y="668.80" font-size="10.3" fill="#474747" text-anchor="middle" font-weight="normal" textLength="9.5" lengthAdjust="spacingAndGlyphs" stroke="#474747" stroke-width="0.15">24</text>
<text x="918.08" y="668.80" font-size="10.3" fill="#474747" text-anchor="middle" font-weight="normal" textLength="22" lengthAdjust="spacingAndGlyphs" stroke="#474747" stroke-width="0.15">12:00</text>
<text x="990.97" y="668.80" font-size="10.3" fill="#474747" text-anchor="middle" font-weight="normal" textLength="9.5" lengthAdjust="spacingAndGlyphs" stroke="#474747" stroke-width="0.15">25</text>
<text x="1063.86" y="668.80" font-size="10.3" fill="#474747" text-anchor="middle" font-weight="normal" textLength="22" lengthAdjust="spacingAndGlyphs" stroke="#474747" stroke-width="0.15">12:00</text>
<text x="1136.75" y="668.80" font-size="10.3" fill="#474747" text-anchor="middle" font-weight="normal" textLength="9.5" lengthAdjust="spacingAndGlyphs" stroke="#474747" stroke-width="0.15">26</text>
<text x="1209.64" y="668.80" font-size="10.3" fill="#474747" text-anchor="middle" font-weight="normal" textLength="22" lengthAdjust="spacingAndGlyphs" stroke="#474747" stroke-width="0.15">12:00</text>
<text x="1282.53" y="668.80" font-size="10.3" fill="#474747" text-anchor="middle" font-weight="normal" textLength="9.5" lengthAdjust="spacingAndGlyphs" stroke="#474747" stroke-width="0.15">27</text>
<text x="1355.42" y="668.80" font-size="10.3" fill="#474747" text-anchor="middle" font-weight="normal" textLength="22" lengthAdjust="spacingAndGlyphs" stroke="#474747" stroke-width="0.15">12:00</text>
<text x="1428.31" y="668.80" font-size="10.3" fill="#474747" text-anchor="middle" font-weight="normal" textLength="9.5" lengthAdjust="spacingAndGlyphs" stroke="#474747" stroke-width="0.15">28</text>
<rect x="8.5" y="22.5" width="1518.5" height="655" fill="none" stroke="#e0e3eb" stroke-width="1"/>
<text x="8.50" y="15.80" font-size="10.5" fill="#4a4a4a" text-anchor="start" font-weight="normal" textLength="305" lengthAdjust="spacingAndGlyphs" stroke="#4a4a4a" stroke-width="0.15">aayushjindal published on TradingView.com, Jul 25, 2023 02:24 UTC</text>
<path d="M8.1 688 H15 V695.8 H11.4 V691.1 H8.1 Z" fill="#131722"/><circle cx="17.8" cy="689.6" r="1.6" fill="#131722"/><path d="M20.2 688 H24.6 L21.2 695.8 H16.9 Z" fill="#131722"/>
<text x="28.00" y="695.80" font-size="10.4" fill="#4a4a52" text-anchor="start" font-weight="normal" textLength="58.6" lengthAdjust="spacingAndGlyphs" stroke="#4a4a52" stroke-width="0.15">TradingView</text>
</svg></body></html>
